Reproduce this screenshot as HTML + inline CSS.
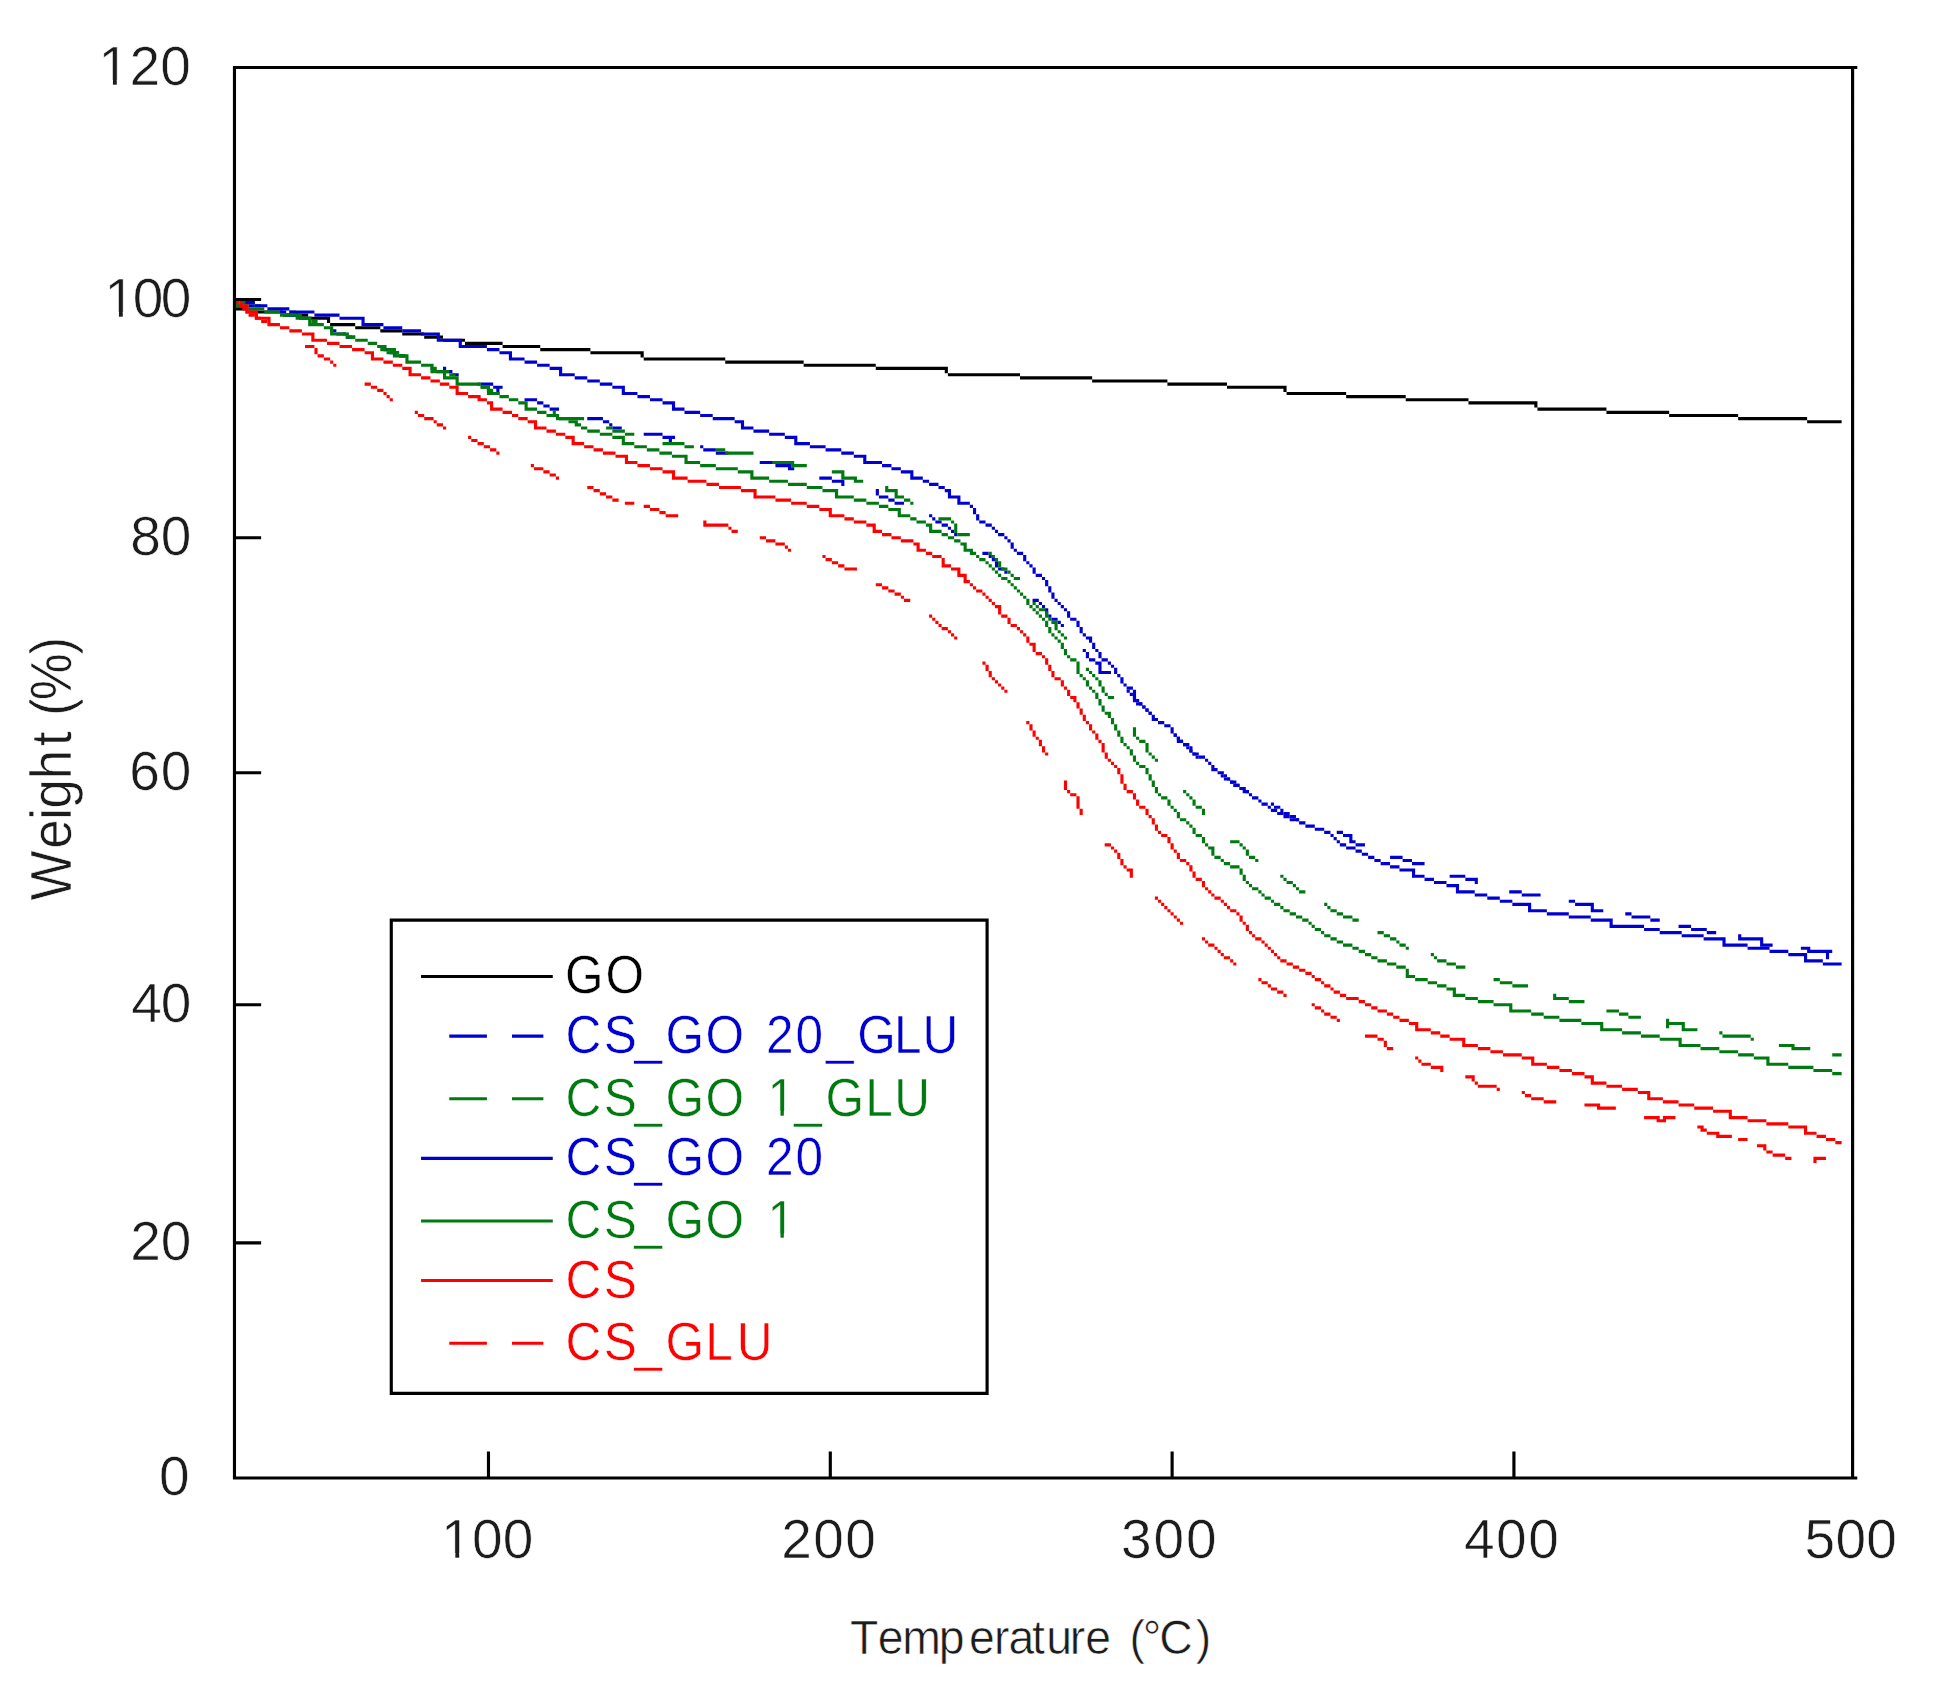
<!DOCTYPE html>
<html><head><meta charset="utf-8"><title>TGA</title>
<style>
html,body{margin:0;padding:0;background:#fff;}
body{width:1945px;height:1702px;overflow:hidden;}
svg{display:block;}
text{font-family:"Liberation Sans",sans-serif;font-kerning:none;}
</style></head><body>
<svg width="1945" height="1702" viewBox="0 0 1945 1702">
<rect width="1945" height="1702" fill="#fff"/>
<g>
<path d="M236.04 307.32H248.59V310.46H236.04zM248.59 310.46H283.08V313.59H248.59zM283.08 313.59H308.17V316.72H283.08zM308.17 316.72H330.12V319.86H308.17zM326.98 319.86H330.12V322.99H326.98zM330.12 322.99H355.21V326.13H330.12zM355.21 326.13H380.29V329.26H355.21zM380.29 329.26H402.25V332.40H380.29zM402.25 332.40H424.20V335.53H402.25zM424.20 335.53H443.01V338.67H424.20zM443.01 338.67H464.96V341.80H443.01zM464.96 341.80H502.59V344.93H464.96zM502.59 344.93H540.22V348.07H502.59zM540.22 348.07H590.40V351.20H540.22zM590.40 351.20H643.71V354.34H590.40zM640.57 354.34H643.71V357.47H640.57zM643.71 357.47H725.24V360.61H643.71zM725.24 360.61H803.64V363.74H725.24zM803.64 363.74H875.77V366.87H803.64zM875.77 366.87H947.89V370.01H875.77zM944.76 370.01H947.89V373.14H944.76zM947.89 373.14H1020.02V376.28H947.89zM1020.02 376.28H1092.14V379.41H1020.02zM1092.14 379.41H1167.40V382.55H1092.14zM1167.40 382.55H1226.99V385.68H1167.40zM1226.99 385.68H1286.57V388.82H1226.99zM1283.43 388.82H1286.57V391.95H1283.43zM1286.57 391.95H1346.15V395.08H1286.57zM1346.15 395.08H1405.73V398.22H1346.15zM1405.73 398.22H1468.45V401.35H1405.73zM1468.45 401.35H1537.44V404.49H1468.45zM1534.31 404.49H1537.44V407.62H1534.31zM1537.44 407.62H1606.43V410.76H1537.44zM1606.43 410.76H1669.15V413.89H1606.43zM1669.15 413.89H1738.14V417.03H1669.15zM1738.14 417.03H1807.13V420.16H1738.14zM1807.13 420.16H1841.62V423.29H1807.13z" fill="#000"/>
<path d="M236.04 297.92H242.31V301.05H236.04zM242.31 301.05H248.59V304.19H242.31zM248.59 304.19H254.86V307.32H248.59zM279.95 310.46H286.22V313.59H279.95zM286.22 313.59H298.76V316.72H286.22zM298.76 316.72H308.17V319.86H298.76zM330.12 329.26H336.39V332.40H330.12zM336.39 332.40H345.80V335.53H336.39zM345.80 335.53H352.07V338.67H345.80zM383.43 348.07H389.70V351.20H383.43zM389.70 351.20H399.11V354.34H389.70zM399.11 354.34H405.38V357.47H399.11zM443.01 366.87H446.15V370.01H443.01zM446.15 370.01H452.42V373.14H446.15zM452.42 373.14H458.69V376.28H452.42zM480.64 382.55H493.19V385.68H480.64zM493.19 385.68H502.59V388.82H493.19zM496.32 388.82H499.46V391.95H496.32zM496.32 391.95H499.46V395.08H496.32zM524.55 398.22H537.09V401.35H524.55zM537.09 401.35H543.36V404.49H537.09zM543.36 404.49H549.63V407.62H543.36zM549.63 407.62H559.04V410.76H549.63zM587.26 417.03H602.94V420.16H587.26zM602.94 420.16H609.21V423.29H602.94zM609.21 423.29H612.35V426.43H609.21zM612.35 426.43H621.76V429.56H612.35zM643.71 432.70H662.52V435.83H643.71zM662.52 435.83H675.07V438.97H662.52zM668.80 438.97H671.93V442.10H668.80zM700.16 445.23H703.29V448.37H700.16zM703.29 448.37H715.84V451.50H703.29zM715.84 451.50H728.38V454.64H715.84zM759.74 460.91H775.42V464.04H759.74zM775.42 464.04H791.10V467.18H775.42zM787.96 467.18H794.23V470.31H787.96zM819.32 476.58H831.86V479.71H819.32zM831.86 479.71H844.41V482.85H831.86zM841.27 482.85H844.41V485.98H841.27zM875.77 489.12H878.90V492.25H875.77zM875.77 492.25H878.90V495.39H875.77zM878.90 495.39H888.31V498.52H878.90zM888.31 498.52H894.58V501.65H888.31zM894.58 501.65H903.99V504.79H894.58zM929.08 514.19H932.21V517.33H929.08zM932.21 517.33H935.35V520.46H932.21zM935.35 520.46H941.62V523.59H935.35zM941.62 523.59H947.89V526.73H941.62zM947.89 526.73H951.03V529.86H947.89zM951.03 529.86H954.16V533.00H951.03zM954.16 533.00H957.30V536.13H954.16zM982.39 551.80H988.66V554.94H982.39zM988.66 554.94H991.79V558.07H988.66zM991.79 558.07H994.93V561.21H991.79zM994.93 561.21H998.07V564.34H994.93zM994.93 564.34H998.07V567.48H994.93zM998.07 567.48H1004.34V570.61H998.07zM1004.34 570.61H1007.47V573.75H1004.34zM1032.56 598.82H1038.83V601.95H1032.56zM1038.83 601.95H1041.97V605.09H1038.83zM1041.97 605.09H1045.10V608.22H1041.97zM1045.10 608.22H1048.24V611.36H1045.10zM1045.10 611.36H1048.24V614.49H1045.10zM1048.24 614.49H1051.38V617.63H1048.24zM1051.38 617.63H1057.65V620.76H1051.38zM1057.65 620.76H1060.78V623.90H1057.65zM1060.78 623.90H1063.92V627.03H1060.78zM1082.74 648.97H1085.87V652.11H1082.74zM1085.87 652.11H1089.01V655.24H1085.87zM1085.87 655.24H1089.01V658.37H1085.87zM1089.01 658.37H1095.28V661.51H1089.01zM1095.28 661.51H1101.55V664.64H1095.28zM1098.41 664.64H1101.55V667.78H1098.41zM1098.41 667.78H1101.55V670.91H1098.41zM1098.41 670.91H1110.96V674.05H1098.41zM1126.64 689.72H1129.77V692.85H1126.64zM1129.77 692.85H1132.91V695.99H1129.77zM1132.91 695.99H1136.05V699.12H1132.91zM1136.05 699.12H1139.18V702.26H1136.05zM1139.18 702.26H1142.32V705.39H1139.18zM1142.32 705.39H1145.45V708.52H1142.32zM1145.45 708.52H1148.59V711.66H1145.45zM1148.59 711.66H1151.73V714.79H1148.59zM1173.68 733.60H1176.81V736.73H1173.68zM1176.81 736.73H1179.95V739.87H1176.81zM1179.95 739.87H1183.08V743.00H1179.95zM1183.08 743.00H1186.22V746.14H1183.08zM1186.22 746.14H1189.36V749.27H1186.22zM1189.36 749.27H1192.49V752.41H1189.36zM1192.49 752.41H1195.63V755.54H1192.49zM1195.63 755.54H1198.76V758.67H1195.63zM1220.72 774.35H1223.85V777.48H1220.72zM1223.85 777.48H1230.12V780.62H1223.85zM1230.12 780.62H1233.26V783.75H1230.12zM1233.26 783.75H1239.53V786.88H1233.26zM1239.53 786.88H1245.80V790.02H1239.53zM1245.80 790.02H1248.94V793.15H1245.80zM1270.89 802.56H1274.03V805.69H1270.89zM1274.03 805.69H1280.30V808.83H1274.03zM1280.30 808.83H1283.43V811.96H1280.30zM1283.43 811.96H1289.70V815.09H1283.43zM1289.70 815.09H1295.98V818.23H1289.70zM1295.98 818.23H1299.11V821.36H1295.98zM1336.74 830.77H1343.02V833.90H1336.74zM1343.02 833.90H1352.42V837.03H1343.02zM1349.29 837.03H1352.42V840.17H1349.29zM1349.29 840.17H1355.56V843.30H1349.29zM1355.56 843.30H1364.97V846.44H1355.56zM1390.05 855.84H1402.60V858.98H1390.05zM1402.60 858.98H1412.00V862.11H1402.60zM1412.00 862.11H1424.55V865.24H1412.00zM1449.64 874.65H1465.32V877.78H1449.64zM1465.32 877.78H1477.86V880.92H1465.32zM1474.72 880.92H1477.86V884.05H1474.72zM1509.22 890.32H1521.76V893.45H1509.22zM1521.76 893.45H1540.58V896.59H1521.76zM1568.80 899.72H1575.07V902.86H1568.80zM1575.07 902.86H1593.89V905.99H1575.07zM1590.75 905.99H1593.89V909.13H1590.75zM1590.75 909.13H1603.29V912.26H1590.75zM1625.25 912.26H1631.52V915.39H1625.25zM1631.52 915.39H1650.33V918.53H1631.52zM1650.33 918.53H1659.74V921.66H1650.33zM1678.56 924.80H1691.10V927.93H1678.56zM1691.10 927.93H1706.78V931.07H1691.10zM1706.78 931.07H1716.19V934.20H1706.78zM1738.14 934.20H1741.27V937.34H1738.14zM1738.14 937.34H1763.23V940.47H1738.14zM1760.09 940.47H1763.23V943.60H1760.09zM1760.09 943.60H1772.63V946.74H1760.09zM1800.86 946.74H1810.26V949.87H1800.86zM1807.13 949.87H1832.22V953.01H1807.13zM1825.94 953.01H1829.08V956.14H1825.94zM1825.94 956.14H1829.08V959.28H1825.94z" fill="#0000d2"/>
<path d="M236.04 297.92H242.31V301.05H236.04zM242.31 301.05H254.86V304.19H242.31zM254.86 304.19H261.13V307.32H254.86zM289.35 310.46H295.62V313.59H289.35zM295.62 313.59H301.90V316.72H295.62zM301.90 316.72H311.30V319.86H301.90zM311.30 319.86H317.58V322.99H311.30zM342.66 332.40H348.93V335.53H342.66zM348.93 335.53H355.21V338.67H348.93zM380.29 348.07H386.57V351.20H380.29zM386.57 351.20H399.11V354.34H386.57zM399.11 354.34H405.38V357.47H399.11zM430.47 366.87H436.74V370.01H430.47zM436.74 370.01H449.28V373.14H436.74zM449.28 373.14H455.56V376.28H449.28zM477.51 382.55H480.64V385.68H477.51zM480.64 385.68H486.91V388.82H480.64zM486.91 388.82H493.19V391.95H486.91zM493.19 391.95H499.46V395.08H493.19zM552.77 410.76H555.90V413.89H552.77zM555.90 413.89H559.04V417.03H555.90zM555.90 417.03H584.13V420.16H555.90zM606.08 426.43H612.35V429.56H606.08zM612.35 429.56H624.89V432.70H612.35zM624.89 432.70H634.30V435.83H624.89zM662.52 442.10H684.48V445.23H662.52zM684.48 445.23H693.88V448.37H684.48zM715.84 448.37H725.24V451.50H715.84zM725.24 451.50H753.47V454.64H725.24zM772.28 460.91H794.23V464.04H772.28zM791.10 464.04H806.78V467.18H791.10zM831.86 470.31H844.41V473.44H831.86zM841.27 473.44H844.41V476.58H841.27zM841.27 476.58H856.95V479.71H841.27zM853.81 479.71H863.22V482.85H853.81zM885.17 485.98H888.31V489.12H885.17zM885.17 489.12H897.72V492.25H885.17zM894.58 492.25H897.72V495.39H894.58zM894.58 495.39H903.99V498.52H894.58zM903.99 498.52H910.26V501.65H903.99zM910.26 501.65H913.40V504.79H910.26zM938.48 517.33H951.03V520.46H938.48zM951.03 520.46H954.16V523.59H951.03zM954.16 523.59H957.30V526.73H954.16zM954.16 526.73H957.30V529.86H954.16zM954.16 529.86H957.30V533.00H954.16zM957.30 533.00H969.84V536.13H957.30zM988.66 551.80H991.79V554.94H988.66zM991.79 554.94H994.93V558.07H991.79zM994.93 558.07H998.07V561.21H994.93zM998.07 561.21H1001.20V564.34H998.07zM998.07 564.34H1001.20V567.48H998.07zM1001.20 567.48H1007.47V570.61H1001.20zM1007.47 570.61H1010.61V573.75H1007.47zM1010.61 573.75H1013.75V576.88H1010.61zM1013.75 576.88H1020.02V580.01H1013.75zM1032.56 601.95H1035.70V605.09H1032.56zM1035.70 605.09H1038.83V608.22H1035.70zM1038.83 608.22H1045.10V611.36H1038.83zM1045.10 611.36H1048.24V614.49H1045.10zM1045.10 614.49H1048.24V617.63H1045.10zM1048.24 617.63H1051.38V620.76H1048.24zM1051.38 620.76H1057.65V623.90H1051.38zM1054.51 623.90H1057.65V627.03H1054.51zM1054.51 627.03H1057.65V630.16H1054.51zM1057.65 630.16H1060.78V633.30H1057.65zM1060.78 633.30H1063.92V636.43H1060.78zM1063.92 636.43H1067.06V639.57H1063.92zM1085.87 667.78H1089.01V670.91H1085.87zM1089.01 670.91H1092.14V674.05H1089.01zM1092.14 674.05H1095.28V677.18H1092.14zM1095.28 677.18H1098.41V680.31H1095.28zM1098.41 680.31H1101.55V683.45H1098.41zM1098.41 683.45H1101.55V686.58H1098.41zM1101.55 686.58H1104.69V689.72H1101.55zM1101.55 689.72H1104.69V692.85H1101.55zM1104.69 692.85H1107.82V695.99H1104.69zM1107.82 695.99H1114.09V699.12H1107.82zM1132.91 727.33H1136.05V730.47H1132.91zM1132.91 730.47H1136.05V733.60H1132.91zM1132.91 733.60H1136.05V736.73H1132.91zM1136.05 736.73H1139.18V739.87H1136.05zM1139.18 739.87H1145.45V743.00H1139.18zM1145.45 743.00H1148.59V746.14H1145.45zM1145.45 746.14H1148.59V749.27H1145.45zM1145.45 749.27H1148.59V752.41H1145.45zM1148.59 752.41H1151.73V755.54H1148.59zM1151.73 755.54H1154.86V758.67H1151.73zM1154.86 758.67H1158.00V761.81H1154.86zM1183.08 790.02H1186.22V793.15H1183.08zM1186.22 793.15H1189.36V796.29H1186.22zM1189.36 796.29H1192.49V799.42H1189.36zM1192.49 799.42H1195.63V802.56H1192.49zM1192.49 802.56H1195.63V805.69H1192.49zM1195.63 805.69H1201.90V808.83H1195.63zM1201.90 808.83H1205.04V811.96H1201.90zM1201.90 811.96H1205.04V815.09H1201.90zM1230.12 840.17H1239.53V843.30H1230.12zM1239.53 843.30H1242.67V846.44H1239.53zM1242.67 846.44H1245.80V849.57H1242.67zM1245.80 849.57H1248.94V852.71H1245.80zM1245.80 852.71H1248.94V855.84H1245.80zM1248.94 855.84H1255.21V858.98H1248.94zM1255.21 858.98H1258.35V862.11H1255.21zM1280.30 874.65H1283.43V877.78H1280.30zM1283.43 877.78H1286.57V880.92H1283.43zM1286.57 880.92H1292.84V884.05H1286.57zM1292.84 884.05H1295.98V887.19H1292.84zM1295.98 887.19H1299.11V890.32H1295.98zM1299.11 890.32H1305.38V893.45H1299.11zM1324.20 902.86H1327.34V905.99H1324.20zM1327.34 905.99H1330.47V909.13H1327.34zM1330.47 909.13H1336.74V912.26H1330.47zM1336.74 912.26H1343.02V915.39H1336.74zM1343.02 915.39H1352.42V918.53H1343.02zM1352.42 918.53H1358.69V921.66H1352.42zM1377.51 931.07H1383.78V934.20H1377.51zM1383.78 934.20H1390.05V937.34H1383.78zM1390.05 937.34H1396.33V940.47H1390.05zM1396.33 940.47H1399.46V943.60H1396.33zM1399.46 943.60H1405.73V946.74H1399.46zM1405.73 946.74H1408.87V949.87H1405.73zM1430.82 953.01H1433.96V956.14H1430.82zM1433.96 956.14H1437.09V959.28H1433.96zM1437.09 959.28H1446.50V962.41H1437.09zM1446.50 962.41H1455.91V965.55H1446.50zM1455.91 965.55H1465.32V968.68H1455.91zM1493.54 978.08H1499.81V981.22H1493.54zM1499.81 981.22H1512.35V984.35H1499.81zM1512.35 984.35H1528.03V987.49H1512.35zM1553.12 993.75H1556.26V996.89H1553.12zM1553.12 996.89H1568.80V1000.02H1553.12zM1568.80 1000.02H1584.48V1003.16H1568.80zM1606.43 1009.43H1618.97V1012.56H1606.43zM1618.97 1012.56H1628.38V1015.70H1618.97zM1628.38 1015.70H1640.93V1018.83H1628.38zM1666.01 1018.83H1669.15V1021.96H1666.01zM1666.01 1021.96H1684.83V1025.10H1666.01zM1666.01 1025.10H1669.15V1028.23H1666.01zM1681.69 1025.10H1684.83V1028.23H1681.69zM1681.69 1028.23H1697.37V1031.37H1681.69zM1719.32 1031.37H1722.46V1034.50H1719.32zM1722.46 1034.50H1750.68V1037.64H1722.46zM1750.68 1037.64H1753.82V1040.77H1750.68zM1778.91 1043.91H1794.58V1047.04H1778.91zM1791.45 1047.04H1810.26V1050.17H1791.45zM1832.22 1053.31H1841.62V1056.44H1832.22z" fill="#007a10"/>
<path d="M236.04 297.92H245.45V301.05H236.04zM245.45 301.05H254.86V304.19H245.45zM254.86 304.19H267.40V307.32H254.86zM267.40 307.32H289.35V310.46H267.40zM289.35 310.46H314.44V313.59H289.35zM314.44 313.59H339.53V316.72H314.44zM339.53 316.72H364.61V319.86H339.53zM361.48 319.86H364.61V322.99H361.48zM361.48 322.99H383.43V326.13H361.48zM383.43 326.13H402.25V329.26H383.43zM402.25 329.26H421.06V332.40H402.25zM421.06 332.40H439.88V335.53H421.06zM436.74 335.53H439.88V338.67H436.74zM436.74 338.67H461.83V341.80H436.74zM458.69 341.80H461.83V344.93H458.69zM458.69 344.93H486.91V348.07H458.69zM486.91 348.07H499.46V351.20H486.91zM499.46 351.20H512.00V354.34H499.46zM508.87 354.34H512.00V357.47H508.87zM508.87 357.47H524.55V360.61H508.87zM524.55 360.61H537.09V363.74H524.55zM537.09 363.74H549.63V366.87H537.09zM549.63 366.87H562.18V370.01H549.63zM559.04 370.01H562.18V373.14H559.04zM559.04 373.14H574.72V376.28H559.04zM574.72 376.28H587.26V379.41H574.72zM587.26 379.41H599.81V382.55H587.26zM599.81 382.55H612.35V385.68H599.81zM612.35 385.68H624.89V388.82H612.35zM621.76 388.82H624.89V391.95H621.76zM621.76 391.95H637.44V395.08H621.76zM637.44 395.08H649.98V398.22H637.44zM649.98 398.22H662.52V401.35H649.98zM662.52 401.35H675.07V404.49H662.52zM671.93 404.49H675.07V407.62H671.93zM671.93 407.62H684.48V410.76H671.93zM684.48 410.76H700.16V413.89H684.48zM700.16 413.89H712.70V417.03H700.16zM712.70 417.03H734.65V420.16H712.70zM734.65 420.16H744.06V423.29H734.65zM740.92 423.29H744.06V426.43H740.92zM740.92 426.43H753.47V429.56H740.92zM753.47 429.56H769.15V432.70H753.47zM769.15 432.70H784.83V435.83H769.15zM784.83 435.83H797.37V438.97H784.83zM794.23 438.97H797.37V442.10H794.23zM794.23 442.10H809.91V445.23H794.23zM809.91 445.23H825.59V448.37H809.91zM825.59 448.37H841.27V451.50H825.59zM841.27 451.50H853.81V454.64H841.27zM853.81 454.64H866.36V457.77H853.81zM863.22 457.77H866.36V460.91H863.22zM863.22 460.91H882.04V464.04H863.22zM882.04 464.04H891.45V467.18H882.04zM891.45 467.18H900.85V470.31H891.45zM900.85 470.31H913.40V473.44H900.85zM910.26 473.44H913.40V476.58H910.26zM910.26 476.58H922.80V479.71H910.26zM922.80 479.71H929.08V482.85H922.80zM929.08 482.85H938.48V485.98H929.08zM938.48 485.98H944.76V489.12H938.48zM944.76 489.12H951.03V492.25H944.76zM947.89 492.25H951.03V495.39H947.89zM947.89 495.39H960.44V498.52H947.89zM957.30 498.52H960.44V501.65H957.30zM957.30 501.65H969.84V504.79H957.30zM969.84 504.79H972.98V507.92H969.84zM972.98 507.92H976.11V511.06H972.98zM972.98 511.06H976.11V514.19H972.98zM976.11 514.19H979.25V517.33H976.11zM976.11 517.33H979.25V520.46H976.11zM979.25 520.46H985.52V523.59H979.25zM985.52 523.59H991.79V526.73H985.52zM991.79 526.73H994.93V529.86H991.79zM994.93 529.86H998.07V533.00H994.93zM998.07 533.00H1004.34V536.13H998.07zM1004.34 536.13H1007.47V539.27H1004.34zM1007.47 539.27H1010.61V542.40H1007.47zM1010.61 542.40H1013.75V545.54H1010.61zM1010.61 545.54H1013.75V548.67H1010.61zM1013.75 548.67H1016.88V551.80H1013.75zM1016.88 551.80H1023.15V554.94H1016.88zM1023.15 554.94H1026.29V558.07H1023.15zM1023.15 558.07H1026.29V561.21H1023.15zM1026.29 561.21H1029.43V564.34H1026.29zM1029.43 564.34H1032.56V567.48H1029.43zM1032.56 567.48H1035.70V570.61H1032.56zM1032.56 570.61H1035.70V573.75H1032.56zM1035.70 573.75H1041.97V576.88H1035.70zM1041.97 576.88H1045.10V580.01H1041.97zM1045.10 580.01H1048.24V583.15H1045.10zM1045.10 583.15H1048.24V586.28H1045.10zM1048.24 586.28H1051.38V589.42H1048.24zM1048.24 589.42H1051.38V592.55H1048.24zM1051.38 592.55H1054.51V595.69H1051.38zM1051.38 595.69H1054.51V598.82H1051.38zM1054.51 598.82H1057.65V601.95H1054.51zM1057.65 601.95H1060.78V605.09H1057.65zM1060.78 605.09H1063.92V608.22H1060.78zM1063.92 608.22H1067.06V611.36H1063.92zM1067.06 611.36H1070.19V614.49H1067.06zM1067.06 614.49H1070.19V617.63H1067.06zM1070.19 617.63H1076.46V620.76H1070.19zM1076.46 620.76H1079.60V623.90H1076.46zM1076.46 623.90H1079.60V627.03H1076.46zM1079.60 627.03H1082.74V630.16H1079.60zM1079.60 630.16H1082.74V633.30H1079.60zM1082.74 633.30H1085.87V636.43H1082.74zM1085.87 636.43H1092.14V639.57H1085.87zM1089.01 639.57H1092.14V642.70H1089.01zM1092.14 642.70H1095.28V645.84H1092.14zM1092.14 645.84H1095.28V648.97H1092.14zM1095.28 648.97H1098.41V652.11H1095.28zM1098.41 652.11H1101.55V655.24H1098.41zM1098.41 655.24H1101.55V658.37H1098.41zM1101.55 658.37H1107.82V661.51H1101.55zM1107.82 661.51H1110.96V664.64H1107.82zM1110.96 664.64H1114.09V667.78H1110.96zM1114.09 667.78H1117.23V670.91H1114.09zM1114.09 670.91H1117.23V674.05H1114.09zM1117.23 674.05H1120.37V677.18H1117.23zM1120.37 677.18H1123.50V680.31H1120.37zM1120.37 680.31H1123.50V683.45H1120.37zM1123.50 683.45H1126.64V686.58H1123.50zM1126.64 686.58H1132.91V689.72H1126.64zM1132.91 689.72H1136.05V692.85H1132.91zM1132.91 692.85H1136.05V695.99H1132.91zM1132.91 695.99H1136.05V699.12H1132.91zM1132.91 699.12H1136.05V702.26H1132.91zM1136.05 702.26H1142.32V705.39H1136.05zM1142.32 705.39H1145.45V708.52H1142.32zM1145.45 708.52H1148.59V711.66H1145.45zM1148.59 711.66H1151.73V714.79H1148.59zM1151.73 714.79H1154.86V717.93H1151.73zM1151.73 717.93H1158.00V721.06H1151.73zM1158.00 721.06H1164.27V724.20H1158.00zM1164.27 724.20H1170.54V727.33H1164.27zM1170.54 727.33H1173.68V730.47H1170.54zM1170.54 730.47H1173.68V733.60H1170.54zM1173.68 733.60H1176.81V736.73H1173.68zM1176.81 736.73H1179.95V739.87H1176.81zM1176.81 739.87H1183.08V743.00H1176.81zM1183.08 743.00H1189.36V746.14H1183.08zM1189.36 746.14H1192.49V749.27H1189.36zM1189.36 749.27H1192.49V752.41H1189.36zM1192.49 752.41H1198.76V755.54H1192.49zM1198.76 755.54H1205.04V758.67H1198.76zM1205.04 758.67H1208.17V761.81H1205.04zM1208.17 761.81H1211.31V764.94H1208.17zM1211.31 764.94H1214.44V768.08H1211.31zM1211.31 768.08H1217.58V771.21H1211.31zM1217.58 771.21H1223.85V774.35H1217.58zM1223.85 774.35H1226.99V777.48H1223.85zM1226.99 777.48H1230.12V780.62H1226.99zM1230.12 780.62H1236.39V783.75H1230.12zM1236.39 783.75H1239.53V786.88H1236.39zM1239.53 786.88H1242.67V790.02H1239.53zM1242.67 790.02H1248.94V793.15H1242.67zM1248.94 793.15H1252.07V796.29H1248.94zM1252.07 796.29H1258.35V799.42H1252.07zM1258.35 799.42H1261.48V802.56H1258.35zM1261.48 802.56H1267.75V805.69H1261.48zM1267.75 805.69H1270.89V808.83H1267.75zM1270.89 808.83H1277.16V811.96H1270.89zM1277.16 811.96H1283.43V815.09H1277.16zM1283.43 815.09H1289.70V818.23H1283.43zM1289.70 818.23H1299.11V821.36H1289.70zM1299.11 821.36H1305.38V824.50H1299.11zM1305.38 824.50H1314.79V827.63H1305.38zM1314.79 827.63H1324.20V830.77H1314.79zM1324.20 830.77H1330.47V833.90H1324.20zM1330.47 833.90H1333.61V837.03H1330.47zM1333.61 837.03H1336.74V840.17H1333.61zM1336.74 840.17H1339.88V843.30H1336.74zM1339.88 843.30H1346.15V846.44H1339.88zM1346.15 846.44H1355.56V849.57H1346.15zM1355.56 849.57H1361.83V852.71H1355.56zM1361.83 852.71H1368.10V855.84H1361.83zM1368.10 855.84H1374.37V858.98H1368.10zM1374.37 858.98H1380.65V862.11H1374.37zM1380.65 862.11H1390.05V865.24H1380.65zM1390.05 865.24H1399.46V868.38H1390.05zM1399.46 868.38H1415.14V871.51H1399.46zM1412.00 871.51H1415.14V874.65H1412.00zM1412.00 874.65H1424.55V877.78H1412.00zM1424.55 877.78H1433.96V880.92H1424.55zM1433.96 880.92H1446.50V884.05H1433.96zM1446.50 884.05H1459.04V887.19H1446.50zM1455.91 887.19H1459.04V890.32H1455.91zM1455.91 890.32H1474.72V893.45H1455.91zM1474.72 893.45H1487.27V896.59H1474.72zM1487.27 896.59H1499.81V899.72H1487.27zM1499.81 899.72H1512.35V902.86H1499.81zM1512.35 902.86H1531.17V905.99H1512.35zM1528.03 905.99H1531.17V909.13H1528.03zM1528.03 909.13H1546.85V912.26H1528.03zM1546.85 912.26H1568.80V915.39H1546.85zM1568.80 915.39H1590.75V918.53H1568.80zM1590.75 918.53H1612.70V921.66H1590.75zM1609.57 921.66H1612.70V924.80H1609.57zM1609.57 924.80H1644.06V927.93H1609.57zM1644.06 927.93H1659.74V931.07H1644.06zM1659.74 931.07H1681.69V934.20H1659.74zM1681.69 934.20H1703.64V937.34H1681.69zM1703.64 937.34H1725.59V940.47H1703.64zM1722.46 940.47H1725.59V943.60H1722.46zM1722.46 943.60H1747.55V946.74H1722.46zM1747.55 946.74H1769.50V949.87H1747.55zM1769.50 949.87H1788.31V953.01H1769.50zM1788.31 953.01H1807.13V956.14H1788.31zM1803.99 956.14H1807.13V959.28H1803.99zM1803.99 959.28H1822.81V962.41H1803.99zM1822.81 962.41H1841.62V965.55H1822.81z" fill="#0000d2"/>
<path d="M236.04 297.92H239.18V301.05H236.04zM236.04 301.05H239.18V304.19H236.04zM236.04 304.19H248.59V307.32H236.04zM248.59 307.32H264.27V310.46H248.59zM264.27 310.46H279.95V313.59H264.27zM279.95 313.59H295.62V316.72H279.95zM295.62 316.72H311.30V319.86H295.62zM308.17 319.86H311.30V322.99H308.17zM308.17 322.99H323.85V326.13H308.17zM323.85 326.13H333.26V329.26H323.85zM330.12 329.26H333.26V332.40H330.12zM330.12 332.40H345.80V335.53H330.12zM345.80 335.53H355.21V338.67H345.80zM355.21 338.67H367.75V341.80H355.21zM367.75 341.80H377.16V344.93H367.75zM377.16 344.93H386.57V348.07H377.16zM386.57 348.07H395.97V351.20H386.57zM392.84 351.20H395.97V354.34H392.84zM392.84 354.34H408.52V357.47H392.84zM405.38 357.47H408.52V360.61H405.38zM405.38 360.61H421.06V363.74H405.38zM421.06 363.74H433.60V366.87H421.06zM430.47 366.87H433.60V370.01H430.47zM430.47 370.01H446.15V373.14H430.47zM443.01 373.14H446.15V376.28H443.01zM443.01 376.28H458.69V379.41H443.01zM455.56 379.41H458.69V382.55H455.56zM455.56 382.55H480.64V385.68H455.56zM480.64 385.68H490.05V388.82H480.64zM486.91 388.82H490.05V391.95H486.91zM486.91 391.95H499.46V395.08H486.91zM499.46 395.08H508.87V398.22H499.46zM508.87 398.22H518.27V401.35H508.87zM518.27 401.35H527.68V404.49H518.27zM524.55 404.49H527.68V407.62H524.55zM524.55 407.62H537.09V410.76H524.55zM537.09 410.76H546.50V413.89H537.09zM546.50 413.89H559.04V417.03H546.50zM559.04 417.03H568.45V420.16H559.04zM568.45 420.16H577.86V423.29H568.45zM574.72 423.29H580.99V426.43H574.72zM580.99 426.43H587.26V429.56H580.99zM587.26 429.56H599.81V432.70H587.26zM599.81 432.70H612.35V435.83H599.81zM612.35 435.83H624.89V438.97H612.35zM621.76 438.97H624.89V442.10H621.76zM621.76 442.10H634.30V445.23H621.76zM634.30 445.23H646.85V448.37H634.30zM646.85 448.37H659.39V451.50H646.85zM659.39 451.50H671.93V454.64H659.39zM671.93 454.64H687.61V457.77H671.93zM684.48 457.77H687.61V460.91H684.48zM684.48 460.91H700.16V464.04H684.48zM700.16 464.04H715.84V467.18H700.16zM715.84 467.18H737.79V470.31H715.84zM737.79 470.31H753.47V473.44H737.79zM750.33 473.44H753.47V476.58H750.33zM750.33 476.58H769.15V479.71H750.33zM769.15 479.71H787.96V482.85H769.15zM787.96 482.85H806.78V485.98H787.96zM806.78 485.98H822.46V489.12H806.78zM822.46 489.12H838.14V492.25H822.46zM835.00 492.25H838.14V495.39H835.00zM835.00 495.39H853.81V498.52H835.00zM853.81 498.52H866.36V501.65H853.81zM866.36 501.65H878.90V504.79H866.36zM878.90 504.79H888.31V507.92H878.90zM888.31 507.92H900.85V511.06H888.31zM897.72 511.06H900.85V514.19H897.72zM897.72 514.19H910.26V517.33H897.72zM910.26 517.33H916.53V520.46H910.26zM916.53 520.46H925.94V523.59H916.53zM925.94 523.59H932.21V526.73H925.94zM929.08 526.73H932.21V529.86H929.08zM929.08 529.86H941.62V533.00H929.08zM941.62 533.00H947.89V536.13H941.62zM947.89 536.13H954.16V539.27H947.89zM954.16 539.27H960.44V542.40H954.16zM960.44 542.40H966.71V545.54H960.44zM963.57 545.54H966.71V548.67H963.57zM963.57 548.67H972.98V551.80H963.57zM969.84 551.80H976.11V554.94H969.84zM976.11 554.94H979.25V558.07H976.11zM979.25 558.07H985.52V561.21H979.25zM985.52 561.21H988.66V564.34H985.52zM988.66 564.34H991.79V567.48H988.66zM991.79 567.48H994.93V570.61H991.79zM994.93 570.61H998.07V573.75H994.93zM998.07 573.75H1001.20V576.88H998.07zM1001.20 576.88H1007.47V580.01H1001.20zM1007.47 580.01H1010.61V583.15H1007.47zM1010.61 583.15H1013.75V586.28H1010.61zM1013.75 586.28H1016.88V589.42H1013.75zM1016.88 589.42H1020.02V592.55H1016.88zM1020.02 592.55H1023.15V595.69H1020.02zM1023.15 595.69H1026.29V598.82H1023.15zM1026.29 598.82H1029.43V601.95H1026.29zM1026.29 601.95H1029.43V605.09H1026.29zM1029.43 605.09H1032.56V608.22H1029.43zM1032.56 608.22H1035.70V611.36H1032.56zM1035.70 611.36H1038.83V614.49H1035.70zM1038.83 614.49H1041.97V617.63H1038.83zM1041.97 617.63H1045.10V620.76H1041.97zM1045.10 620.76H1048.24V623.90H1045.10zM1045.10 623.90H1048.24V627.03H1045.10zM1048.24 627.03H1051.38V630.16H1048.24zM1048.24 630.16H1051.38V633.30H1048.24zM1051.38 633.30H1054.51V636.43H1051.38zM1054.51 636.43H1057.65V639.57H1054.51zM1057.65 639.57H1060.78V642.70H1057.65zM1060.78 642.70H1063.92V645.84H1060.78zM1060.78 645.84H1063.92V648.97H1060.78zM1063.92 648.97H1067.06V652.11H1063.92zM1063.92 652.11H1067.06V655.24H1063.92zM1067.06 655.24H1070.19V658.37H1067.06zM1070.19 658.37H1076.46V661.51H1070.19zM1076.46 661.51H1079.60V664.64H1076.46zM1076.46 664.64H1079.60V667.78H1076.46zM1076.46 667.78H1079.60V670.91H1076.46zM1076.46 670.91H1079.60V674.05H1076.46zM1079.60 674.05H1082.74V677.18H1079.60zM1082.74 677.18H1085.87V680.31H1082.74zM1085.87 680.31H1089.01V683.45H1085.87zM1085.87 683.45H1089.01V686.58H1085.87zM1089.01 686.58H1092.14V689.72H1089.01zM1092.14 689.72H1095.28V692.85H1092.14zM1095.28 692.85H1098.41V695.99H1095.28zM1095.28 695.99H1098.41V699.12H1095.28zM1098.41 699.12H1101.55V702.26H1098.41zM1098.41 702.26H1101.55V705.39H1098.41zM1101.55 705.39H1104.69V708.52H1101.55zM1101.55 708.52H1104.69V711.66H1101.55zM1104.69 711.66H1110.96V714.79H1104.69zM1107.82 714.79H1110.96V717.93H1107.82zM1110.96 717.93H1114.09V721.06H1110.96zM1110.96 721.06H1114.09V724.20H1110.96zM1114.09 724.20H1117.23V727.33H1114.09zM1114.09 727.33H1117.23V730.47H1114.09zM1117.23 730.47H1120.37V733.60H1117.23zM1117.23 733.60H1120.37V736.73H1117.23zM1120.37 736.73H1123.50V739.87H1120.37zM1120.37 739.87H1123.50V743.00H1120.37zM1123.50 743.00H1126.64V746.14H1123.50zM1126.64 746.14H1129.77V749.27H1126.64zM1129.77 749.27H1132.91V752.41H1129.77zM1129.77 752.41H1132.91V755.54H1129.77zM1132.91 755.54H1136.05V758.67H1132.91zM1132.91 758.67H1136.05V761.81H1132.91zM1136.05 761.81H1139.18V764.94H1136.05zM1139.18 764.94H1145.45V768.08H1139.18zM1145.45 768.08H1148.59V771.21H1145.45zM1145.45 771.21H1148.59V774.35H1145.45zM1148.59 774.35H1151.73V777.48H1148.59zM1148.59 777.48H1151.73V780.62H1148.59zM1151.73 780.62H1154.86V783.75H1151.73zM1151.73 783.75H1154.86V786.88H1151.73zM1154.86 786.88H1158.00V790.02H1154.86zM1154.86 790.02H1158.00V793.15H1154.86zM1158.00 793.15H1161.13V796.29H1158.00zM1161.13 796.29H1167.40V799.42H1161.13zM1167.40 799.42H1170.54V802.56H1167.40zM1167.40 802.56H1170.54V805.69H1167.40zM1170.54 805.69H1173.68V808.83H1170.54zM1173.68 808.83H1176.81V811.96H1173.68zM1176.81 811.96H1179.95V815.09H1176.81zM1176.81 815.09H1179.95V818.23H1176.81zM1179.95 818.23H1186.22V821.36H1179.95zM1186.22 821.36H1189.36V824.50H1186.22zM1189.36 824.50H1192.49V827.63H1189.36zM1192.49 827.63H1195.63V830.77H1192.49zM1192.49 830.77H1195.63V833.90H1192.49zM1195.63 833.90H1201.90V837.03H1195.63zM1201.90 837.03H1205.04V840.17H1201.90zM1201.90 840.17H1205.04V843.30H1201.90zM1205.04 843.30H1208.17V846.44H1205.04zM1208.17 846.44H1214.44V849.57H1208.17zM1211.31 849.57H1214.44V852.71H1211.31zM1211.31 852.71H1214.44V855.84H1211.31zM1214.44 855.84H1220.72V858.98H1214.44zM1220.72 858.98H1223.85V862.11H1220.72zM1223.85 862.11H1230.12V865.24H1223.85zM1230.12 865.24H1239.53V868.38H1230.12zM1239.53 868.38H1242.67V871.51H1239.53zM1239.53 871.51H1242.67V874.65H1239.53zM1242.67 874.65H1245.80V877.78H1242.67zM1242.67 877.78H1245.80V880.92H1242.67zM1245.80 880.92H1248.94V884.05H1245.80zM1248.94 884.05H1252.07V887.19H1248.94zM1252.07 887.19H1258.35V890.32H1252.07zM1258.35 890.32H1261.48V893.45H1258.35zM1261.48 893.45H1264.62V896.59H1261.48zM1264.62 896.59H1270.89V899.72H1264.62zM1270.89 899.72H1274.03V902.86H1270.89zM1274.03 902.86H1280.30V905.99H1274.03zM1280.30 905.99H1283.43V909.13H1280.30zM1283.43 909.13H1289.70V912.26H1283.43zM1289.70 912.26H1295.98V915.39H1289.70zM1295.98 915.39H1302.25V918.53H1295.98zM1302.25 918.53H1308.52V921.66H1302.25zM1308.52 921.66H1311.66V924.80H1308.52zM1311.66 924.80H1314.79V927.93H1311.66zM1314.79 927.93H1321.06V931.07H1314.79zM1321.06 931.07H1324.20V934.20H1321.06zM1324.20 934.20H1330.47V937.34H1324.20zM1330.47 937.34H1336.74V940.47H1330.47zM1336.74 940.47H1343.02V943.60H1336.74zM1343.02 943.60H1352.42V946.74H1343.02zM1352.42 946.74H1358.69V949.87H1352.42zM1358.69 949.87H1364.97V953.01H1358.69zM1364.97 953.01H1371.24V956.14H1364.97zM1371.24 956.14H1377.51V959.28H1371.24zM1377.51 959.28H1386.92V962.41H1377.51zM1386.92 962.41H1396.33V965.55H1386.92zM1396.33 965.55H1405.73V968.68H1396.33zM1405.73 968.68H1408.87V971.81H1405.73zM1405.73 971.81H1408.87V974.95H1405.73zM1405.73 974.95H1415.14V978.08H1405.73zM1415.14 978.08H1427.68V981.22H1415.14zM1427.68 981.22H1437.09V984.35H1427.68zM1437.09 984.35H1446.50V987.49H1437.09zM1446.50 987.49H1455.91V990.62H1446.50zM1452.77 990.62H1455.91V993.75H1452.77zM1452.77 993.75H1465.32V996.89H1452.77zM1465.32 996.89H1477.86V1000.02H1465.32zM1477.86 1000.02H1493.54V1003.16H1477.86zM1493.54 1003.16H1512.35V1006.29H1493.54zM1509.22 1006.29H1512.35V1009.43H1509.22zM1509.22 1009.43H1531.17V1012.56H1509.22zM1531.17 1012.56H1543.71V1015.70H1531.17zM1543.71 1015.70H1559.39V1018.83H1543.71zM1559.39 1018.83H1581.34V1021.96H1559.39zM1581.34 1021.96H1603.29V1025.10H1581.34zM1600.16 1025.10H1603.29V1028.23H1600.16zM1600.16 1028.23H1622.11V1031.37H1600.16zM1622.11 1031.37H1640.93V1034.50H1622.11zM1640.93 1034.50H1659.74V1037.64H1640.93zM1659.74 1037.64H1681.69V1040.77H1659.74zM1678.56 1040.77H1681.69V1043.91H1678.56zM1678.56 1043.91H1700.51V1047.04H1678.56zM1700.51 1047.04H1719.32V1050.17H1700.51zM1719.32 1050.17H1738.14V1053.31H1719.32zM1738.14 1053.31H1753.82V1056.44H1738.14zM1753.82 1056.44H1769.50V1059.58H1753.82zM1766.36 1059.58H1769.50V1062.71H1766.36zM1766.36 1062.71H1788.31V1065.85H1766.36zM1788.31 1065.85H1813.40V1068.98H1788.31zM1813.40 1068.98H1832.22V1072.11H1813.40zM1832.22 1072.11H1841.62V1075.25H1832.22z" fill="#007a10"/>
<path d="M236.04 301.05H239.18V304.19H236.04zM239.18 304.19H248.59V307.32H239.18zM245.45 307.32H248.59V310.46H245.45zM245.45 310.46H257.99V313.59H245.45zM254.86 313.59H257.99V316.72H254.86zM254.86 316.72H270.54V319.86H254.86zM267.40 319.86H270.54V322.99H267.40zM267.40 322.99H279.95V326.13H267.40zM279.95 326.13H289.35V329.26H279.95zM289.35 329.26H301.90V332.40H289.35zM301.90 332.40H314.44V335.53H301.90zM311.30 335.53H314.44V338.67H311.30zM311.30 338.67H326.98V341.80H311.30zM326.98 341.80H339.53V344.93H326.98zM339.53 344.93H352.07V348.07H339.53zM352.07 348.07H364.61V351.20H352.07zM364.61 351.20H374.02V354.34H364.61zM370.89 354.34H374.02V357.47H370.89zM370.89 357.47H383.43V360.61H370.89zM383.43 360.61H392.84V363.74H383.43zM392.84 363.74H402.25V366.87H392.84zM402.25 366.87H411.65V370.01H402.25zM408.52 370.01H411.65V373.14H408.52zM408.52 373.14H421.06V376.28H408.52zM421.06 376.28H430.47V379.41H421.06zM430.47 379.41H439.88V382.55H430.47zM439.88 382.55H449.28V385.68H439.88zM449.28 385.68H458.69V388.82H449.28zM455.56 388.82H458.69V391.95H455.56zM455.56 391.95H468.10V395.08H455.56zM468.10 395.08H480.64V398.22H468.10zM477.51 398.22H486.91V401.35H477.51zM486.91 401.35H493.19V404.49H486.91zM490.05 404.49H493.19V407.62H490.05zM490.05 407.62H502.59V410.76H490.05zM502.59 410.76H512.00V413.89H502.59zM512.00 413.89H518.27V417.03H512.00zM518.27 417.03H527.68V420.16H518.27zM527.68 420.16H537.09V423.29H527.68zM533.95 423.29H537.09V426.43H533.95zM533.95 426.43H546.50V429.56H533.95zM546.50 429.56H555.90V432.70H546.50zM555.90 432.70H565.31V435.83H555.90zM565.31 435.83H574.72V438.97H565.31zM571.58 438.97H574.72V442.10H571.58zM571.58 442.10H584.13V445.23H571.58zM584.13 445.23H593.54V448.37H584.13zM593.54 448.37H602.94V451.50H593.54zM602.94 451.50H615.49V454.64H602.94zM615.49 454.64H628.03V457.77H615.49zM624.89 457.77H628.03V460.91H624.89zM624.89 460.91H637.44V464.04H624.89zM637.44 464.04H649.98V467.18H637.44zM649.98 467.18H662.52V470.31H649.98zM662.52 470.31H675.07V473.44H662.52zM671.93 473.44H675.07V476.58H671.93zM671.93 476.58H687.61V479.71H671.93zM687.61 479.71H706.43V482.85H687.61zM706.43 482.85H718.97V485.98H706.43zM718.97 485.98H740.92V489.12H718.97zM740.92 489.12H756.60V492.25H740.92zM753.47 492.25H756.60V495.39H753.47zM753.47 495.39H775.42V498.52H753.47zM775.42 498.52H791.10V501.65H775.42zM791.10 501.65H806.78V504.79H791.10zM806.78 504.79H819.32V507.92H806.78zM819.32 507.92H831.86V511.06H819.32zM828.73 511.06H831.86V514.19H828.73zM828.73 514.19H844.41V517.33H828.73zM844.41 517.33H853.81V520.46H844.41zM853.81 520.46H866.36V523.59H853.81zM866.36 523.59H875.77V526.73H866.36zM872.63 526.73H875.77V529.86H872.63zM872.63 529.86H882.04V533.00H872.63zM882.04 533.00H891.45V536.13H882.04zM891.45 536.13H900.85V539.27H891.45zM900.85 539.27H913.40V542.40H900.85zM913.40 542.40H919.67V545.54H913.40zM916.53 545.54H919.67V548.67H916.53zM916.53 548.67H925.94V551.80H916.53zM925.94 551.80H932.21V554.94H925.94zM932.21 554.94H941.62V558.07H932.21zM941.62 558.07H944.76V561.21H941.62zM941.62 561.21H944.76V564.34H941.62zM941.62 564.34H951.03V567.48H941.62zM951.03 567.48H960.44V570.61H951.03zM957.30 570.61H960.44V573.75H957.30zM957.30 573.75H966.71V576.88H957.30zM963.57 576.88H966.71V580.01H963.57zM963.57 580.01H969.84V583.15H963.57zM969.84 583.15H972.98V586.28H969.84zM972.98 586.28H976.11V589.42H972.98zM976.11 589.42H982.39V592.55H976.11zM982.39 592.55H985.52V595.69H982.39zM985.52 595.69H988.66V598.82H985.52zM988.66 598.82H991.79V601.95H988.66zM991.79 601.95H994.93V605.09H991.79zM994.93 605.09H1001.20V608.22H994.93zM998.07 608.22H1001.20V611.36H998.07zM998.07 611.36H1001.20V614.49H998.07zM1001.20 614.49H1007.47V617.63H1001.20zM1007.47 617.63H1010.61V620.76H1007.47zM1007.47 620.76H1010.61V623.90H1007.47zM1010.61 623.90H1016.88V627.03H1010.61zM1016.88 627.03H1020.02V630.16H1016.88zM1020.02 630.16H1023.15V633.30H1020.02zM1023.15 633.30H1026.29V636.43H1023.15zM1026.29 636.43H1029.43V639.57H1026.29zM1026.29 639.57H1029.43V642.70H1026.29zM1029.43 642.70H1035.70V645.84H1029.43zM1032.56 645.84H1035.70V648.97H1032.56zM1032.56 648.97H1035.70V652.11H1032.56zM1035.70 652.11H1041.97V655.24H1035.70zM1041.97 655.24H1045.10V658.37H1041.97zM1045.10 658.37H1048.24V661.51H1045.10zM1045.10 661.51H1048.24V664.64H1045.10zM1048.24 664.64H1051.38V667.78H1048.24zM1048.24 667.78H1051.38V670.91H1048.24zM1051.38 670.91H1054.51V674.05H1051.38zM1051.38 674.05H1054.51V677.18H1051.38zM1054.51 677.18H1060.78V680.31H1054.51zM1060.78 680.31H1063.92V683.45H1060.78zM1060.78 683.45H1063.92V686.58H1060.78zM1063.92 686.58H1067.06V689.72H1063.92zM1067.06 689.72H1070.19V692.85H1067.06zM1067.06 692.85H1070.19V695.99H1067.06zM1070.19 695.99H1076.46V699.12H1070.19zM1073.33 699.12H1076.46V702.26H1073.33zM1076.46 702.26H1079.60V705.39H1076.46zM1076.46 705.39H1079.60V708.52H1076.46zM1079.60 708.52H1082.74V711.66H1079.60zM1079.60 711.66H1082.74V714.79H1079.60zM1082.74 714.79H1085.87V717.93H1082.74zM1082.74 717.93H1085.87V721.06H1082.74zM1085.87 721.06H1089.01V724.20H1085.87zM1089.01 724.20H1092.14V727.33H1089.01zM1089.01 727.33H1092.14V730.47H1089.01zM1092.14 730.47H1095.28V733.60H1092.14zM1095.28 733.60H1098.41V736.73H1095.28zM1095.28 736.73H1098.41V739.87H1095.28zM1098.41 739.87H1101.55V743.00H1098.41zM1101.55 743.00H1104.69V746.14H1101.55zM1101.55 746.14H1104.69V749.27H1101.55zM1101.55 749.27H1104.69V752.41H1101.55zM1104.69 752.41H1107.82V755.54H1104.69zM1104.69 755.54H1107.82V758.67H1104.69zM1107.82 758.67H1110.96V761.81H1107.82zM1110.96 761.81H1114.09V764.94H1110.96zM1114.09 764.94H1117.23V768.08H1114.09zM1117.23 768.08H1120.37V771.21H1117.23zM1117.23 771.21H1120.37V774.35H1117.23zM1120.37 774.35H1123.50V777.48H1120.37zM1120.37 777.48H1123.50V780.62H1120.37zM1120.37 780.62H1123.50V783.75H1120.37zM1123.50 783.75H1126.64V786.88H1123.50zM1123.50 786.88H1126.64V790.02H1123.50zM1126.64 790.02H1132.91V793.15H1126.64zM1132.91 793.15H1136.05V796.29H1132.91zM1132.91 796.29H1136.05V799.42H1132.91zM1136.05 799.42H1139.18V802.56H1136.05zM1136.05 802.56H1139.18V805.69H1136.05zM1139.18 805.69H1145.45V808.83H1139.18zM1145.45 808.83H1148.59V811.96H1145.45zM1145.45 811.96H1148.59V815.09H1145.45zM1148.59 815.09H1151.73V818.23H1148.59zM1151.73 818.23H1154.86V821.36H1151.73zM1151.73 821.36H1154.86V824.50H1151.73zM1154.86 824.50H1158.00V827.63H1154.86zM1154.86 827.63H1158.00V830.77H1154.86zM1158.00 830.77H1161.13V833.90H1158.00zM1161.13 833.90H1167.40V837.03H1161.13zM1167.40 837.03H1170.54V840.17H1167.40zM1167.40 840.17H1170.54V843.30H1167.40zM1170.54 843.30H1173.68V846.44H1170.54zM1170.54 846.44H1173.68V849.57H1170.54zM1173.68 849.57H1176.81V852.71H1173.68zM1176.81 852.71H1179.95V855.84H1176.81zM1176.81 855.84H1179.95V858.98H1176.81zM1179.95 858.98H1186.22V862.11H1179.95zM1186.22 862.11H1189.36V865.24H1186.22zM1189.36 865.24H1192.49V868.38H1189.36zM1189.36 868.38H1192.49V871.51H1189.36zM1192.49 871.51H1195.63V874.65H1192.49zM1192.49 874.65H1195.63V877.78H1192.49zM1195.63 877.78H1201.90V880.92H1195.63zM1201.90 880.92H1205.04V884.05H1201.90zM1201.90 884.05H1205.04V887.19H1201.90zM1205.04 887.19H1208.17V890.32H1205.04zM1208.17 890.32H1211.31V893.45H1208.17zM1211.31 893.45H1214.44V896.59H1211.31zM1214.44 896.59H1220.72V899.72H1214.44zM1220.72 899.72H1223.85V902.86H1220.72zM1223.85 902.86H1226.99V905.99H1223.85zM1226.99 905.99H1230.12V909.13H1226.99zM1230.12 909.13H1236.39V912.26H1230.12zM1236.39 912.26H1239.53V915.39H1236.39zM1239.53 915.39H1242.67V918.53H1239.53zM1239.53 918.53H1242.67V921.66H1239.53zM1242.67 921.66H1245.80V924.80H1242.67zM1245.80 924.80H1248.94V927.93H1245.80zM1245.80 927.93H1248.94V931.07H1245.80zM1248.94 931.07H1252.07V934.20H1248.94zM1252.07 934.20H1255.21V937.34H1252.07zM1255.21 937.34H1261.48V940.47H1255.21zM1261.48 940.47H1264.62V943.60H1261.48zM1264.62 943.60H1267.75V946.74H1264.62zM1267.75 946.74H1270.89V949.87H1267.75zM1270.89 949.87H1274.03V953.01H1270.89zM1274.03 953.01H1277.16V956.14H1274.03zM1277.16 956.14H1280.30V959.28H1277.16zM1280.30 959.28H1286.57V962.41H1280.30zM1286.57 962.41H1292.84V965.55H1286.57zM1292.84 965.55H1299.11V968.68H1292.84zM1299.11 968.68H1305.38V971.81H1299.11zM1305.38 971.81H1311.66V974.95H1305.38zM1311.66 974.95H1314.79V978.08H1311.66zM1314.79 978.08H1321.06V981.22H1314.79zM1321.06 981.22H1324.20V984.35H1321.06zM1324.20 984.35H1330.47V987.49H1324.20zM1330.47 987.49H1333.61V990.62H1330.47zM1333.61 990.62H1339.88V993.75H1333.61zM1339.88 993.75H1346.15V996.89H1339.88zM1346.15 996.89H1358.69V1000.02H1346.15zM1358.69 1000.02H1364.97V1003.16H1358.69zM1364.97 1003.16H1371.24V1006.29H1364.97zM1371.24 1006.29H1377.51V1009.43H1371.24zM1377.51 1009.43H1386.92V1012.56H1377.51zM1386.92 1012.56H1393.19V1015.70H1386.92zM1393.19 1015.70H1399.46V1018.83H1393.19zM1399.46 1018.83H1408.87V1021.96H1399.46zM1408.87 1021.96H1418.28V1025.10H1408.87zM1415.14 1025.10H1418.28V1028.23H1415.14zM1415.14 1028.23H1430.82V1031.37H1415.14zM1430.82 1031.37H1440.23V1034.50H1430.82zM1440.23 1034.50H1449.64V1037.64H1440.23zM1449.64 1037.64H1465.32V1040.77H1449.64zM1462.18 1040.77H1465.32V1043.91H1462.18zM1462.18 1043.91H1477.86V1047.04H1462.18zM1477.86 1047.04H1490.40V1050.17H1477.86zM1490.40 1050.17H1502.95V1053.31H1490.40zM1502.95 1053.31H1521.76V1056.44H1502.95zM1521.76 1056.44H1534.31V1059.58H1521.76zM1531.17 1059.58H1534.31V1062.71H1531.17zM1531.17 1062.71H1546.85V1065.85H1531.17zM1546.85 1065.85H1559.39V1068.98H1546.85zM1559.39 1068.98H1571.94V1072.11H1559.39zM1571.94 1072.11H1584.48V1075.25H1571.94zM1584.48 1075.25H1593.89V1078.38H1584.48zM1590.75 1078.38H1593.89V1081.52H1590.75zM1590.75 1081.52H1606.43V1084.65H1590.75zM1606.43 1084.65H1622.11V1087.79H1606.43zM1622.11 1087.79H1637.79V1090.92H1622.11zM1637.79 1090.92H1650.33V1094.06H1637.79zM1647.20 1094.06H1650.33V1097.19H1647.20zM1647.20 1097.19H1662.88V1100.32H1647.20zM1662.88 1100.32H1678.56V1103.46H1662.88zM1678.56 1103.46H1694.24V1106.59H1678.56zM1694.24 1106.59H1713.05V1109.73H1694.24zM1713.05 1109.73H1731.87V1112.86H1713.05zM1728.73 1112.86H1731.87V1116.00H1728.73zM1728.73 1116.00H1747.55V1119.13H1728.73zM1747.55 1119.13H1766.36V1122.27H1747.55zM1766.36 1122.27H1788.31V1125.40H1766.36zM1788.31 1125.40H1807.13V1128.53H1788.31zM1803.99 1128.53H1807.13V1131.67H1803.99zM1803.99 1131.67H1816.54V1134.80H1803.99zM1816.54 1134.80H1825.94V1137.94H1816.54zM1825.94 1137.94H1835.35V1141.07H1825.94zM1835.35 1141.07H1841.62V1144.21H1835.35z" fill="#ff0000"/>
<path d="M236.04 297.92H239.18V301.05H236.04zM239.18 301.05H242.31V304.19H239.18zM239.18 304.19H242.31V307.32H239.18zM242.31 307.32H245.45V310.46H242.31zM245.45 310.46H248.59V313.59H245.45zM248.59 313.59H254.86V316.72H248.59zM254.86 316.72H261.13V319.86H254.86zM261.13 319.86H267.40V322.99H261.13zM305.03 344.93H314.44V348.07H305.03zM314.44 348.07H317.58V351.20H314.44zM314.44 351.20H317.58V354.34H314.44zM317.58 354.34H323.85V357.47H317.58zM323.85 357.47H330.12V360.61H323.85zM330.12 360.61H333.26V363.74H330.12zM333.26 363.74H336.39V366.87H333.26zM364.61 382.55H370.89V385.68H364.61zM370.89 385.68H377.16V388.82H370.89zM377.16 388.82H383.43V391.95H377.16zM383.43 391.95H386.57V395.08H383.43zM386.57 395.08H389.70V398.22H386.57zM389.70 398.22H392.84V401.35H389.70zM414.79 410.76H417.92V413.89H414.79zM417.92 413.89H424.20V417.03H417.92zM424.20 417.03H433.60V420.16H424.20zM433.60 420.16H436.74V423.29H433.60zM436.74 423.29H443.01V426.43H436.74zM443.01 426.43H446.15V429.56H443.01zM468.10 435.83H471.24V438.97H468.10zM471.24 438.97H477.51V442.10H471.24zM477.51 442.10H483.78V445.23H477.51zM483.78 445.23H490.05V448.37H483.78zM490.05 448.37H496.32V451.50H490.05zM496.32 451.50H499.46V454.64H496.32zM530.82 464.04H533.95V467.18H530.82zM533.95 467.18H543.36V470.31H533.95zM543.36 470.31H549.63V473.44H543.36zM549.63 473.44H555.90V476.58H549.63zM555.90 476.58H559.04V479.71H555.90zM587.26 485.98H593.54V489.12H587.26zM593.54 489.12H599.81V492.25H593.54zM599.81 492.25H606.08V495.39H599.81zM606.08 495.39H612.35V498.52H606.08zM612.35 498.52H618.62V501.65H612.35zM624.89 501.65H634.30V504.79H624.89zM643.71 504.79H649.98V507.92H643.71zM649.98 507.92H659.39V511.06H649.98zM659.39 511.06H665.66V514.19H659.39zM665.66 514.19H678.20V517.33H665.66zM703.29 520.46H706.43V523.59H703.29zM703.29 523.59H728.38V526.73H703.29zM728.38 526.73H731.51V529.86H728.38zM731.51 529.86H737.79V533.00H731.51zM759.74 536.13H766.01V539.27H759.74zM766.01 539.27H775.42V542.40H766.01zM775.42 542.40H784.83V545.54H775.42zM784.83 545.54H787.96V548.67H784.83zM787.96 548.67H791.10V551.80H787.96zM822.46 554.94H825.59V558.07H822.46zM825.59 558.07H831.86V561.21H825.59zM831.86 561.21H838.14V564.34H831.86zM838.14 564.34H844.41V567.48H838.14zM844.41 567.48H856.95V570.61H844.41zM875.77 583.15H882.04V586.28H875.77zM882.04 586.28H888.31V589.42H882.04zM888.31 589.42H894.58V592.55H888.31zM894.58 592.55H900.85V595.69H894.58zM900.85 595.69H903.99V598.82H900.85zM903.99 598.82H910.26V601.95H903.99zM929.08 614.49H932.21V617.63H929.08zM932.21 617.63H935.35V620.76H932.21zM935.35 620.76H938.48V623.90H935.35zM938.48 623.90H941.62V627.03H938.48zM941.62 627.03H947.89V630.16H941.62zM947.89 630.16H951.03V633.30H947.89zM951.03 633.30H954.16V636.43H951.03zM954.16 636.43H957.30V639.57H954.16zM982.39 661.51H985.52V664.64H982.39zM985.52 664.64H988.66V667.78H985.52zM985.52 667.78H988.66V670.91H985.52zM988.66 670.91H991.79V674.05H988.66zM988.66 674.05H991.79V677.18H988.66zM991.79 677.18H994.93V680.31H991.79zM994.93 680.31H998.07V683.45H994.93zM998.07 683.45H1001.20V686.58H998.07zM1001.20 686.58H1004.34V689.72H1001.20zM1004.34 689.72H1007.47V692.85H1004.34zM1026.29 721.06H1029.43V724.20H1026.29zM1029.43 724.20H1032.56V727.33H1029.43zM1029.43 727.33H1032.56V730.47H1029.43zM1032.56 730.47H1035.70V733.60H1032.56zM1032.56 733.60H1035.70V736.73H1032.56zM1035.70 736.73H1038.83V739.87H1035.70zM1038.83 739.87H1041.97V743.00H1038.83zM1038.83 743.00H1041.97V746.14H1038.83zM1041.97 746.14H1045.10V749.27H1041.97zM1041.97 749.27H1045.10V752.41H1041.97zM1045.10 752.41H1048.24V755.54H1045.10zM1063.92 780.62H1067.06V783.75H1063.92zM1063.92 783.75H1067.06V786.88H1063.92zM1063.92 786.88H1067.06V790.02H1063.92zM1067.06 790.02H1070.19V793.15H1067.06zM1070.19 793.15H1076.46V796.29H1070.19zM1076.46 796.29H1079.60V799.42H1076.46zM1076.46 799.42H1079.60V802.56H1076.46zM1076.46 802.56H1079.60V805.69H1076.46zM1076.46 805.69H1079.60V808.83H1076.46zM1079.60 808.83H1082.74V811.96H1079.60zM1079.60 811.96H1082.74V815.09H1079.60zM1104.69 843.30H1110.96V846.44H1104.69zM1110.96 846.44H1114.09V849.57H1110.96zM1114.09 849.57H1117.23V852.71H1114.09zM1117.23 852.71H1120.37V855.84H1117.23zM1117.23 855.84H1120.37V858.98H1117.23zM1120.37 858.98H1123.50V862.11H1120.37zM1120.37 862.11H1123.50V865.24H1120.37zM1123.50 865.24H1126.64V868.38H1123.50zM1126.64 868.38H1132.91V871.51H1126.64zM1129.77 871.51H1132.91V874.65H1129.77zM1129.77 874.65H1132.91V877.78H1129.77zM1154.86 896.59H1158.00V899.72H1154.86zM1158.00 899.72H1161.13V902.86H1158.00zM1161.13 902.86H1164.27V905.99H1161.13zM1164.27 905.99H1167.40V909.13H1164.27zM1167.40 909.13H1170.54V912.26H1167.40zM1170.54 912.26H1173.68V915.39H1170.54zM1173.68 915.39H1176.81V918.53H1173.68zM1176.81 918.53H1179.95V921.66H1176.81zM1179.95 921.66H1183.08V924.80H1179.95zM1201.90 937.34H1205.04V940.47H1201.90zM1205.04 940.47H1208.17V943.60H1205.04zM1208.17 943.60H1214.44V946.74H1208.17zM1214.44 946.74H1217.58V949.87H1214.44zM1217.58 949.87H1220.72V953.01H1217.58zM1220.72 953.01H1223.85V956.14H1220.72zM1223.85 956.14H1230.12V959.28H1223.85zM1230.12 959.28H1233.26V962.41H1230.12zM1233.26 962.41H1236.39V965.55H1233.26zM1258.35 978.08H1261.48V981.22H1258.35zM1261.48 981.22H1267.75V984.35H1261.48zM1267.75 984.35H1270.89V987.49H1267.75zM1270.89 987.49H1277.16V990.62H1270.89zM1277.16 990.62H1283.43V993.75H1277.16zM1283.43 993.75H1286.57V996.89H1283.43zM1311.66 1003.16H1314.79V1006.29H1311.66zM1314.79 1006.29H1321.06V1009.43H1314.79zM1321.06 1009.43H1324.20V1012.56H1321.06zM1324.20 1012.56H1330.47V1015.70H1324.20zM1330.47 1015.70H1336.74V1018.83H1330.47zM1336.74 1018.83H1339.88V1021.96H1336.74zM1364.97 1034.50H1377.51V1037.64H1364.97zM1377.51 1037.64H1383.78V1040.77H1377.51zM1383.78 1040.77H1386.92V1043.91H1383.78zM1383.78 1043.91H1386.92V1047.04H1383.78zM1386.92 1047.04H1393.19V1050.17H1386.92zM1415.14 1056.44H1418.28V1059.58H1415.14zM1418.28 1059.58H1421.41V1062.71H1418.28zM1421.41 1062.71H1430.82V1065.85H1421.41zM1430.82 1065.85H1443.36V1068.98H1430.82zM1440.23 1068.98H1443.36V1072.11H1440.23zM1465.32 1075.25H1474.72V1078.38H1465.32zM1471.59 1078.38H1474.72V1081.52H1471.59zM1474.72 1081.52H1477.86V1084.65H1474.72zM1477.86 1084.65H1496.67V1087.79H1477.86zM1496.67 1087.79H1499.81V1090.92H1496.67zM1521.76 1090.92H1524.90V1094.06H1521.76zM1524.90 1094.06H1531.17V1097.19H1524.90zM1531.17 1097.19H1543.71V1100.32H1531.17zM1543.71 1100.32H1556.26V1103.46H1543.71zM1584.48 1103.46H1600.16V1106.59H1584.48zM1597.02 1106.59H1615.84V1109.73H1597.02zM1644.06 1116.00H1659.74V1119.13H1644.06zM1662.88 1116.00H1675.42V1119.13H1662.88zM1656.61 1119.13H1666.01V1122.27H1656.61zM1697.37 1125.40H1703.64V1128.53H1697.37zM1700.51 1128.53H1706.78V1131.67H1700.51zM1706.78 1131.67H1719.32V1134.80H1706.78zM1716.19 1134.80H1731.87V1137.94H1716.19zM1738.14 1137.94H1747.55V1141.07H1738.14zM1756.95 1144.21H1766.36V1147.34H1756.95zM1763.23 1147.34H1766.36V1150.47H1763.23zM1766.36 1150.47H1772.63V1153.61H1766.36zM1772.63 1153.61H1785.18V1156.74H1772.63zM1785.18 1156.74H1791.45V1159.88H1785.18zM1813.40 1156.74H1825.94V1159.88H1813.40zM1813.40 1159.88H1816.54V1163.01H1813.40z" fill="#ff0000"/>
</g>
<path d="M232.91 65.97H1857.30V69.11H232.91zM232.91 69.11H236.04V72.24H232.91zM1851.03 69.11H1854.17V72.24H1851.03zM232.91 72.24H236.04V75.38H232.91zM1851.03 72.24H1854.17V75.38H1851.03zM232.91 75.38H236.04V78.51H232.91zM1851.03 75.38H1854.17V78.51H1851.03zM232.91 78.51H236.04V81.64H232.91zM1851.03 78.51H1854.17V81.64H1851.03zM232.91 81.64H236.04V84.78H232.91zM1851.03 81.64H1854.17V84.78H1851.03zM232.91 84.78H236.04V87.91H232.91zM1851.03 84.78H1854.17V87.91H1851.03zM232.91 87.91H236.04V91.05H232.91zM1851.03 87.91H1854.17V91.05H1851.03zM232.91 91.05H236.04V94.18H232.91zM1851.03 91.05H1854.17V94.18H1851.03zM232.91 94.18H236.04V97.32H232.91zM1851.03 94.18H1854.17V97.32H1851.03zM232.91 97.32H236.04V100.45H232.91zM1851.03 97.32H1854.17V100.45H1851.03zM232.91 100.45H236.04V103.59H232.91zM1851.03 100.45H1854.17V103.59H1851.03zM232.91 103.59H236.04V106.72H232.91zM1851.03 103.59H1854.17V106.72H1851.03zM232.91 106.72H236.04V109.85H232.91zM1851.03 106.72H1854.17V109.85H1851.03zM232.91 109.85H236.04V112.99H232.91zM1851.03 109.85H1854.17V112.99H1851.03zM232.91 112.99H236.04V116.12H232.91zM1851.03 112.99H1854.17V116.12H1851.03zM232.91 116.12H236.04V119.26H232.91zM1851.03 116.12H1854.17V119.26H1851.03zM232.91 119.26H236.04V122.39H232.91zM1851.03 119.26H1854.17V122.39H1851.03zM232.91 122.39H236.04V125.53H232.91zM1851.03 122.39H1854.17V125.53H1851.03zM232.91 125.53H236.04V128.66H232.91zM1851.03 125.53H1854.17V128.66H1851.03zM232.91 128.66H236.04V131.79H232.91zM1851.03 128.66H1854.17V131.79H1851.03zM232.91 131.79H236.04V134.93H232.91zM1851.03 131.79H1854.17V134.93H1851.03zM232.91 134.93H236.04V138.06H232.91zM1851.03 134.93H1854.17V138.06H1851.03zM232.91 138.06H236.04V141.20H232.91zM1851.03 138.06H1854.17V141.20H1851.03zM232.91 141.20H236.04V144.33H232.91zM1851.03 141.20H1854.17V144.33H1851.03zM232.91 144.33H236.04V147.47H232.91zM1851.03 144.33H1854.17V147.47H1851.03zM232.91 147.47H236.04V150.60H232.91zM1851.03 147.47H1854.17V150.60H1851.03zM232.91 150.60H236.04V153.74H232.91zM1851.03 150.60H1854.17V153.74H1851.03zM232.91 153.74H236.04V156.87H232.91zM1851.03 153.74H1854.17V156.87H1851.03zM232.91 156.87H236.04V160.00H232.91zM1851.03 156.87H1854.17V160.00H1851.03zM232.91 160.00H236.04V163.14H232.91zM1851.03 160.00H1854.17V163.14H1851.03zM232.91 163.14H236.04V166.27H232.91zM1851.03 163.14H1854.17V166.27H1851.03zM232.91 166.27H236.04V169.41H232.91zM1851.03 166.27H1854.17V169.41H1851.03zM232.91 169.41H236.04V172.54H232.91zM1851.03 169.41H1854.17V172.54H1851.03zM232.91 172.54H236.04V175.68H232.91zM1851.03 172.54H1854.17V175.68H1851.03zM232.91 175.68H236.04V178.81H232.91zM1851.03 175.68H1854.17V178.81H1851.03zM232.91 178.81H236.04V181.95H232.91zM1851.03 178.81H1854.17V181.95H1851.03zM232.91 181.95H236.04V185.08H232.91zM1851.03 181.95H1854.17V185.08H1851.03zM232.91 185.08H236.04V188.21H232.91zM1851.03 185.08H1854.17V188.21H1851.03zM232.91 188.21H236.04V191.35H232.91zM1851.03 188.21H1854.17V191.35H1851.03zM232.91 191.35H236.04V194.48H232.91zM1851.03 191.35H1854.17V194.48H1851.03zM232.91 194.48H236.04V197.62H232.91zM1851.03 194.48H1854.17V197.62H1851.03zM232.91 197.62H236.04V200.75H232.91zM1851.03 197.62H1854.17V200.75H1851.03zM232.91 200.75H236.04V203.89H232.91zM1851.03 200.75H1854.17V203.89H1851.03zM232.91 203.89H236.04V207.02H232.91zM1851.03 203.89H1854.17V207.02H1851.03zM232.91 207.02H236.04V210.15H232.91zM1851.03 207.02H1854.17V210.15H1851.03zM232.91 210.15H236.04V213.29H232.91zM1851.03 210.15H1854.17V213.29H1851.03zM232.91 213.29H236.04V216.42H232.91zM1851.03 213.29H1854.17V216.42H1851.03zM232.91 216.42H236.04V219.56H232.91zM1851.03 216.42H1854.17V219.56H1851.03zM232.91 219.56H236.04V222.69H232.91zM1851.03 219.56H1854.17V222.69H1851.03zM232.91 222.69H236.04V225.83H232.91zM1851.03 222.69H1854.17V225.83H1851.03zM232.91 225.83H236.04V228.96H232.91zM1851.03 225.83H1854.17V228.96H1851.03zM232.91 228.96H236.04V232.10H232.91zM1851.03 228.96H1854.17V232.10H1851.03zM232.91 232.10H236.04V235.23H232.91zM1851.03 232.10H1854.17V235.23H1851.03zM232.91 235.23H236.04V238.36H232.91zM1851.03 235.23H1854.17V238.36H1851.03zM232.91 238.36H236.04V241.50H232.91zM1851.03 238.36H1854.17V241.50H1851.03zM232.91 241.50H236.04V244.63H232.91zM1851.03 241.50H1854.17V244.63H1851.03zM232.91 244.63H236.04V247.77H232.91zM1851.03 244.63H1854.17V247.77H1851.03zM232.91 247.77H236.04V250.90H232.91zM1851.03 247.77H1854.17V250.90H1851.03zM232.91 250.90H236.04V254.04H232.91zM1851.03 250.90H1854.17V254.04H1851.03zM232.91 254.04H236.04V257.17H232.91zM1851.03 254.04H1854.17V257.17H1851.03zM232.91 257.17H236.04V260.31H232.91zM1851.03 257.17H1854.17V260.31H1851.03zM232.91 260.31H236.04V263.44H232.91zM1851.03 260.31H1854.17V263.44H1851.03zM232.91 263.44H236.04V266.57H232.91zM1851.03 263.44H1854.17V266.57H1851.03zM232.91 266.57H236.04V269.71H232.91zM1851.03 266.57H1854.17V269.71H1851.03zM232.91 269.71H236.04V272.84H232.91zM1851.03 269.71H1854.17V272.84H1851.03zM232.91 272.84H236.04V275.98H232.91zM1851.03 272.84H1854.17V275.98H1851.03zM232.91 275.98H236.04V279.11H232.91zM1851.03 275.98H1854.17V279.11H1851.03zM232.91 279.11H236.04V282.25H232.91zM1851.03 279.11H1854.17V282.25H1851.03zM232.91 282.25H236.04V285.38H232.91zM1851.03 282.25H1854.17V285.38H1851.03zM232.91 285.38H236.04V288.51H232.91zM1851.03 285.38H1854.17V288.51H1851.03zM232.91 288.51H236.04V291.65H232.91zM1851.03 288.51H1854.17V291.65H1851.03zM232.91 291.65H236.04V294.78H232.91zM1851.03 291.65H1854.17V294.78H1851.03zM232.91 294.78H236.04V297.92H232.91zM1851.03 294.78H1854.17V297.92H1851.03zM232.91 297.92H261.13V301.05H232.91zM1851.03 297.92H1854.17V301.05H1851.03zM232.91 301.05H236.04V304.19H232.91zM1851.03 301.05H1854.17V304.19H1851.03zM232.91 304.19H236.04V307.32H232.91zM1851.03 304.19H1854.17V307.32H1851.03zM232.91 307.32H236.04V310.46H232.91zM1851.03 307.32H1854.17V310.46H1851.03zM232.91 310.46H236.04V313.59H232.91zM1851.03 310.46H1854.17V313.59H1851.03zM232.91 313.59H236.04V316.72H232.91zM1851.03 313.59H1854.17V316.72H1851.03zM232.91 316.72H236.04V319.86H232.91zM1851.03 316.72H1854.17V319.86H1851.03zM232.91 319.86H236.04V322.99H232.91zM1851.03 319.86H1854.17V322.99H1851.03zM232.91 322.99H236.04V326.13H232.91zM1851.03 322.99H1854.17V326.13H1851.03zM232.91 326.13H236.04V329.26H232.91zM1851.03 326.13H1854.17V329.26H1851.03zM232.91 329.26H236.04V332.40H232.91zM1851.03 329.26H1854.17V332.40H1851.03zM232.91 332.40H236.04V335.53H232.91zM1851.03 332.40H1854.17V335.53H1851.03zM232.91 335.53H236.04V338.67H232.91zM1851.03 335.53H1854.17V338.67H1851.03zM232.91 338.67H236.04V341.80H232.91zM1851.03 338.67H1854.17V341.80H1851.03zM232.91 341.80H236.04V344.93H232.91zM1851.03 341.80H1854.17V344.93H1851.03zM232.91 344.93H236.04V348.07H232.91zM1851.03 344.93H1854.17V348.07H1851.03zM232.91 348.07H236.04V351.20H232.91zM1851.03 348.07H1854.17V351.20H1851.03zM232.91 351.20H236.04V354.34H232.91zM1851.03 351.20H1854.17V354.34H1851.03zM232.91 354.34H236.04V357.47H232.91zM1851.03 354.34H1854.17V357.47H1851.03zM232.91 357.47H236.04V360.61H232.91zM1851.03 357.47H1854.17V360.61H1851.03zM232.91 360.61H236.04V363.74H232.91zM1851.03 360.61H1854.17V363.74H1851.03zM232.91 363.74H236.04V366.87H232.91zM1851.03 363.74H1854.17V366.87H1851.03zM232.91 366.87H236.04V370.01H232.91zM1851.03 366.87H1854.17V370.01H1851.03zM232.91 370.01H236.04V373.14H232.91zM1851.03 370.01H1854.17V373.14H1851.03zM232.91 373.14H236.04V376.28H232.91zM1851.03 373.14H1854.17V376.28H1851.03zM232.91 376.28H236.04V379.41H232.91zM1851.03 376.28H1854.17V379.41H1851.03zM232.91 379.41H236.04V382.55H232.91zM1851.03 379.41H1854.17V382.55H1851.03zM232.91 382.55H236.04V385.68H232.91zM1851.03 382.55H1854.17V385.68H1851.03zM232.91 385.68H236.04V388.82H232.91zM1851.03 385.68H1854.17V388.82H1851.03zM232.91 388.82H236.04V391.95H232.91zM1851.03 388.82H1854.17V391.95H1851.03zM232.91 391.95H236.04V395.08H232.91zM1851.03 391.95H1854.17V395.08H1851.03zM232.91 395.08H236.04V398.22H232.91zM1851.03 395.08H1854.17V398.22H1851.03zM232.91 398.22H236.04V401.35H232.91zM1851.03 398.22H1854.17V401.35H1851.03zM232.91 401.35H236.04V404.49H232.91zM1851.03 401.35H1854.17V404.49H1851.03zM232.91 404.49H236.04V407.62H232.91zM1851.03 404.49H1854.17V407.62H1851.03zM232.91 407.62H236.04V410.76H232.91zM1851.03 407.62H1854.17V410.76H1851.03zM232.91 410.76H236.04V413.89H232.91zM1851.03 410.76H1854.17V413.89H1851.03zM232.91 413.89H236.04V417.03H232.91zM1851.03 413.89H1854.17V417.03H1851.03zM232.91 417.03H236.04V420.16H232.91zM1851.03 417.03H1854.17V420.16H1851.03zM232.91 420.16H236.04V423.29H232.91zM1851.03 420.16H1854.17V423.29H1851.03zM232.91 423.29H236.04V426.43H232.91zM1851.03 423.29H1854.17V426.43H1851.03zM232.91 426.43H236.04V429.56H232.91zM1851.03 426.43H1854.17V429.56H1851.03zM232.91 429.56H236.04V432.70H232.91zM1851.03 429.56H1854.17V432.70H1851.03zM232.91 432.70H236.04V435.83H232.91zM1851.03 432.70H1854.17V435.83H1851.03zM232.91 435.83H236.04V438.97H232.91zM1851.03 435.83H1854.17V438.97H1851.03zM232.91 438.97H236.04V442.10H232.91zM1851.03 438.97H1854.17V442.10H1851.03zM232.91 442.10H236.04V445.23H232.91zM1851.03 442.10H1854.17V445.23H1851.03zM232.91 445.23H236.04V448.37H232.91zM1851.03 445.23H1854.17V448.37H1851.03zM232.91 448.37H236.04V451.50H232.91zM1851.03 448.37H1854.17V451.50H1851.03zM232.91 451.50H236.04V454.64H232.91zM1851.03 451.50H1854.17V454.64H1851.03zM232.91 454.64H236.04V457.77H232.91zM1851.03 454.64H1854.17V457.77H1851.03zM232.91 457.77H236.04V460.91H232.91zM1851.03 457.77H1854.17V460.91H1851.03zM232.91 460.91H236.04V464.04H232.91zM1851.03 460.91H1854.17V464.04H1851.03zM232.91 464.04H236.04V467.18H232.91zM1851.03 464.04H1854.17V467.18H1851.03zM232.91 467.18H236.04V470.31H232.91zM1851.03 467.18H1854.17V470.31H1851.03zM232.91 470.31H236.04V473.44H232.91zM1851.03 470.31H1854.17V473.44H1851.03zM232.91 473.44H236.04V476.58H232.91zM1851.03 473.44H1854.17V476.58H1851.03zM232.91 476.58H236.04V479.71H232.91zM1851.03 476.58H1854.17V479.71H1851.03zM232.91 479.71H236.04V482.85H232.91zM1851.03 479.71H1854.17V482.85H1851.03zM232.91 482.85H236.04V485.98H232.91zM1851.03 482.85H1854.17V485.98H1851.03zM232.91 485.98H236.04V489.12H232.91zM1851.03 485.98H1854.17V489.12H1851.03zM232.91 489.12H236.04V492.25H232.91zM1851.03 489.12H1854.17V492.25H1851.03zM232.91 492.25H236.04V495.39H232.91zM1851.03 492.25H1854.17V495.39H1851.03zM232.91 495.39H236.04V498.52H232.91zM1851.03 495.39H1854.17V498.52H1851.03zM232.91 498.52H236.04V501.65H232.91zM1851.03 498.52H1854.17V501.65H1851.03zM232.91 501.65H236.04V504.79H232.91zM1851.03 501.65H1854.17V504.79H1851.03zM232.91 504.79H236.04V507.92H232.91zM1851.03 504.79H1854.17V507.92H1851.03zM232.91 507.92H236.04V511.06H232.91zM1851.03 507.92H1854.17V511.06H1851.03zM232.91 511.06H236.04V514.19H232.91zM1851.03 511.06H1854.17V514.19H1851.03zM232.91 514.19H236.04V517.33H232.91zM1851.03 514.19H1854.17V517.33H1851.03zM232.91 517.33H236.04V520.46H232.91zM1851.03 517.33H1854.17V520.46H1851.03zM232.91 520.46H236.04V523.59H232.91zM1851.03 520.46H1854.17V523.59H1851.03zM232.91 523.59H236.04V526.73H232.91zM1851.03 523.59H1854.17V526.73H1851.03zM232.91 526.73H236.04V529.86H232.91zM1851.03 526.73H1854.17V529.86H1851.03zM232.91 529.86H236.04V533.00H232.91zM1851.03 529.86H1854.17V533.00H1851.03zM232.91 533.00H236.04V536.13H232.91zM1851.03 533.00H1854.17V536.13H1851.03zM232.91 536.13H261.13V539.27H232.91zM1851.03 536.13H1854.17V539.27H1851.03zM232.91 539.27H236.04V542.40H232.91zM1851.03 539.27H1854.17V542.40H1851.03zM232.91 542.40H236.04V545.54H232.91zM1851.03 542.40H1854.17V545.54H1851.03zM232.91 545.54H236.04V548.67H232.91zM1851.03 545.54H1854.17V548.67H1851.03zM232.91 548.67H236.04V551.80H232.91zM1851.03 548.67H1854.17V551.80H1851.03zM232.91 551.80H236.04V554.94H232.91zM1851.03 551.80H1854.17V554.94H1851.03zM232.91 554.94H236.04V558.07H232.91zM1851.03 554.94H1854.17V558.07H1851.03zM232.91 558.07H236.04V561.21H232.91zM1851.03 558.07H1854.17V561.21H1851.03zM232.91 561.21H236.04V564.34H232.91zM1851.03 561.21H1854.17V564.34H1851.03zM232.91 564.34H236.04V567.48H232.91zM1851.03 564.34H1854.17V567.48H1851.03zM232.91 567.48H236.04V570.61H232.91zM1851.03 567.48H1854.17V570.61H1851.03zM232.91 570.61H236.04V573.75H232.91zM1851.03 570.61H1854.17V573.75H1851.03zM232.91 573.75H236.04V576.88H232.91zM1851.03 573.75H1854.17V576.88H1851.03zM232.91 576.88H236.04V580.01H232.91zM1851.03 576.88H1854.17V580.01H1851.03zM232.91 580.01H236.04V583.15H232.91zM1851.03 580.01H1854.17V583.15H1851.03zM232.91 583.15H236.04V586.28H232.91zM1851.03 583.15H1854.17V586.28H1851.03zM232.91 586.28H236.04V589.42H232.91zM1851.03 586.28H1854.17V589.42H1851.03zM232.91 589.42H236.04V592.55H232.91zM1851.03 589.42H1854.17V592.55H1851.03zM232.91 592.55H236.04V595.69H232.91zM1851.03 592.55H1854.17V595.69H1851.03zM232.91 595.69H236.04V598.82H232.91zM1851.03 595.69H1854.17V598.82H1851.03zM232.91 598.82H236.04V601.95H232.91zM1851.03 598.82H1854.17V601.95H1851.03zM232.91 601.95H236.04V605.09H232.91zM1851.03 601.95H1854.17V605.09H1851.03zM232.91 605.09H236.04V608.22H232.91zM1851.03 605.09H1854.17V608.22H1851.03zM232.91 608.22H236.04V611.36H232.91zM1851.03 608.22H1854.17V611.36H1851.03zM232.91 611.36H236.04V614.49H232.91zM1851.03 611.36H1854.17V614.49H1851.03zM232.91 614.49H236.04V617.63H232.91zM1851.03 614.49H1854.17V617.63H1851.03zM232.91 617.63H236.04V620.76H232.91zM1851.03 617.63H1854.17V620.76H1851.03zM232.91 620.76H236.04V623.90H232.91zM1851.03 620.76H1854.17V623.90H1851.03zM232.91 623.90H236.04V627.03H232.91zM1851.03 623.90H1854.17V627.03H1851.03zM232.91 627.03H236.04V630.16H232.91zM1851.03 627.03H1854.17V630.16H1851.03zM232.91 630.16H236.04V633.30H232.91zM1851.03 630.16H1854.17V633.30H1851.03zM232.91 633.30H236.04V636.43H232.91zM1851.03 633.30H1854.17V636.43H1851.03zM232.91 636.43H236.04V639.57H232.91zM1851.03 636.43H1854.17V639.57H1851.03zM232.91 639.57H236.04V642.70H232.91zM1851.03 639.57H1854.17V642.70H1851.03zM232.91 642.70H236.04V645.84H232.91zM1851.03 642.70H1854.17V645.84H1851.03zM232.91 645.84H236.04V648.97H232.91zM1851.03 645.84H1854.17V648.97H1851.03zM232.91 648.97H236.04V652.11H232.91zM1851.03 648.97H1854.17V652.11H1851.03zM232.91 652.11H236.04V655.24H232.91zM1851.03 652.11H1854.17V655.24H1851.03zM232.91 655.24H236.04V658.37H232.91zM1851.03 655.24H1854.17V658.37H1851.03zM232.91 658.37H236.04V661.51H232.91zM1851.03 658.37H1854.17V661.51H1851.03zM232.91 661.51H236.04V664.64H232.91zM1851.03 661.51H1854.17V664.64H1851.03zM232.91 664.64H236.04V667.78H232.91zM1851.03 664.64H1854.17V667.78H1851.03zM232.91 667.78H236.04V670.91H232.91zM1851.03 667.78H1854.17V670.91H1851.03zM232.91 670.91H236.04V674.05H232.91zM1851.03 670.91H1854.17V674.05H1851.03zM232.91 674.05H236.04V677.18H232.91zM1851.03 674.05H1854.17V677.18H1851.03zM232.91 677.18H236.04V680.31H232.91zM1851.03 677.18H1854.17V680.31H1851.03zM232.91 680.31H236.04V683.45H232.91zM1851.03 680.31H1854.17V683.45H1851.03zM232.91 683.45H236.04V686.58H232.91zM1851.03 683.45H1854.17V686.58H1851.03zM232.91 686.58H236.04V689.72H232.91zM1851.03 686.58H1854.17V689.72H1851.03zM232.91 689.72H236.04V692.85H232.91zM1851.03 689.72H1854.17V692.85H1851.03zM232.91 692.85H236.04V695.99H232.91zM1851.03 692.85H1854.17V695.99H1851.03zM232.91 695.99H236.04V699.12H232.91zM1851.03 695.99H1854.17V699.12H1851.03zM232.91 699.12H236.04V702.26H232.91zM1851.03 699.12H1854.17V702.26H1851.03zM232.91 702.26H236.04V705.39H232.91zM1851.03 702.26H1854.17V705.39H1851.03zM232.91 705.39H236.04V708.52H232.91zM1851.03 705.39H1854.17V708.52H1851.03zM232.91 708.52H236.04V711.66H232.91zM1851.03 708.52H1854.17V711.66H1851.03zM232.91 711.66H236.04V714.79H232.91zM1851.03 711.66H1854.17V714.79H1851.03zM232.91 714.79H236.04V717.93H232.91zM1851.03 714.79H1854.17V717.93H1851.03zM232.91 717.93H236.04V721.06H232.91zM1851.03 717.93H1854.17V721.06H1851.03zM232.91 721.06H236.04V724.20H232.91zM1851.03 721.06H1854.17V724.20H1851.03zM232.91 724.20H236.04V727.33H232.91zM1851.03 724.20H1854.17V727.33H1851.03zM232.91 727.33H236.04V730.47H232.91zM1851.03 727.33H1854.17V730.47H1851.03zM232.91 730.47H236.04V733.60H232.91zM1851.03 730.47H1854.17V733.60H1851.03zM232.91 733.60H236.04V736.73H232.91zM1851.03 733.60H1854.17V736.73H1851.03zM232.91 736.73H236.04V739.87H232.91zM1851.03 736.73H1854.17V739.87H1851.03zM232.91 739.87H236.04V743.00H232.91zM1851.03 739.87H1854.17V743.00H1851.03zM232.91 743.00H236.04V746.14H232.91zM1851.03 743.00H1854.17V746.14H1851.03zM232.91 746.14H236.04V749.27H232.91zM1851.03 746.14H1854.17V749.27H1851.03zM232.91 749.27H236.04V752.41H232.91zM1851.03 749.27H1854.17V752.41H1851.03zM232.91 752.41H236.04V755.54H232.91zM1851.03 752.41H1854.17V755.54H1851.03zM232.91 755.54H236.04V758.67H232.91zM1851.03 755.54H1854.17V758.67H1851.03zM232.91 758.67H236.04V761.81H232.91zM1851.03 758.67H1854.17V761.81H1851.03zM232.91 761.81H236.04V764.94H232.91zM1851.03 761.81H1854.17V764.94H1851.03zM232.91 764.94H236.04V768.08H232.91zM1851.03 764.94H1854.17V768.08H1851.03zM232.91 768.08H236.04V771.21H232.91zM1851.03 768.08H1854.17V771.21H1851.03zM232.91 771.21H261.13V774.35H232.91zM1851.03 771.21H1854.17V774.35H1851.03zM232.91 774.35H236.04V777.48H232.91zM1851.03 774.35H1854.17V777.48H1851.03zM232.91 777.48H236.04V780.62H232.91zM1851.03 777.48H1854.17V780.62H1851.03zM232.91 780.62H236.04V783.75H232.91zM1851.03 780.62H1854.17V783.75H1851.03zM232.91 783.75H236.04V786.88H232.91zM1851.03 783.75H1854.17V786.88H1851.03zM232.91 786.88H236.04V790.02H232.91zM1851.03 786.88H1854.17V790.02H1851.03zM232.91 790.02H236.04V793.15H232.91zM1851.03 790.02H1854.17V793.15H1851.03zM232.91 793.15H236.04V796.29H232.91zM1851.03 793.15H1854.17V796.29H1851.03zM232.91 796.29H236.04V799.42H232.91zM1851.03 796.29H1854.17V799.42H1851.03zM232.91 799.42H236.04V802.56H232.91zM1851.03 799.42H1854.17V802.56H1851.03zM232.91 802.56H236.04V805.69H232.91zM1851.03 802.56H1854.17V805.69H1851.03zM232.91 805.69H236.04V808.83H232.91zM1851.03 805.69H1854.17V808.83H1851.03zM232.91 808.83H236.04V811.96H232.91zM1851.03 808.83H1854.17V811.96H1851.03zM232.91 811.96H236.04V815.09H232.91zM1851.03 811.96H1854.17V815.09H1851.03zM232.91 815.09H236.04V818.23H232.91zM1851.03 815.09H1854.17V818.23H1851.03zM232.91 818.23H236.04V821.36H232.91zM1851.03 818.23H1854.17V821.36H1851.03zM232.91 821.36H236.04V824.50H232.91zM1851.03 821.36H1854.17V824.50H1851.03zM232.91 824.50H236.04V827.63H232.91zM1851.03 824.50H1854.17V827.63H1851.03zM232.91 827.63H236.04V830.77H232.91zM1851.03 827.63H1854.17V830.77H1851.03zM232.91 830.77H236.04V833.90H232.91zM1851.03 830.77H1854.17V833.90H1851.03zM232.91 833.90H236.04V837.03H232.91zM1851.03 833.90H1854.17V837.03H1851.03zM232.91 837.03H236.04V840.17H232.91zM1851.03 837.03H1854.17V840.17H1851.03zM232.91 840.17H236.04V843.30H232.91zM1851.03 840.17H1854.17V843.30H1851.03zM232.91 843.30H236.04V846.44H232.91zM1851.03 843.30H1854.17V846.44H1851.03zM232.91 846.44H236.04V849.57H232.91zM1851.03 846.44H1854.17V849.57H1851.03zM232.91 849.57H236.04V852.71H232.91zM1851.03 849.57H1854.17V852.71H1851.03zM232.91 852.71H236.04V855.84H232.91zM1851.03 852.71H1854.17V855.84H1851.03zM232.91 855.84H236.04V858.98H232.91zM1851.03 855.84H1854.17V858.98H1851.03zM232.91 858.98H236.04V862.11H232.91zM1851.03 858.98H1854.17V862.11H1851.03zM232.91 862.11H236.04V865.24H232.91zM1851.03 862.11H1854.17V865.24H1851.03zM232.91 865.24H236.04V868.38H232.91zM1851.03 865.24H1854.17V868.38H1851.03zM232.91 868.38H236.04V871.51H232.91zM1851.03 868.38H1854.17V871.51H1851.03zM232.91 871.51H236.04V874.65H232.91zM1851.03 871.51H1854.17V874.65H1851.03zM232.91 874.65H236.04V877.78H232.91zM1851.03 874.65H1854.17V877.78H1851.03zM232.91 877.78H236.04V880.92H232.91zM1851.03 877.78H1854.17V880.92H1851.03zM232.91 880.92H236.04V884.05H232.91zM1851.03 880.92H1854.17V884.05H1851.03zM232.91 884.05H236.04V887.19H232.91zM1851.03 884.05H1854.17V887.19H1851.03zM232.91 887.19H236.04V890.32H232.91zM1851.03 887.19H1854.17V890.32H1851.03zM232.91 890.32H236.04V893.45H232.91zM1851.03 890.32H1854.17V893.45H1851.03zM232.91 893.45H236.04V896.59H232.91zM1851.03 893.45H1854.17V896.59H1851.03zM232.91 896.59H236.04V899.72H232.91zM1851.03 896.59H1854.17V899.72H1851.03zM232.91 899.72H236.04V902.86H232.91zM1851.03 899.72H1854.17V902.86H1851.03zM232.91 902.86H236.04V905.99H232.91zM1851.03 902.86H1854.17V905.99H1851.03zM232.91 905.99H236.04V909.13H232.91zM1851.03 905.99H1854.17V909.13H1851.03zM232.91 909.13H236.04V912.26H232.91zM1851.03 909.13H1854.17V912.26H1851.03zM232.91 912.26H236.04V915.39H232.91zM1851.03 912.26H1854.17V915.39H1851.03zM232.91 915.39H236.04V918.53H232.91zM1851.03 915.39H1854.17V918.53H1851.03zM232.91 918.53H236.04V921.66H232.91zM1851.03 918.53H1854.17V921.66H1851.03zM232.91 921.66H236.04V924.80H232.91zM1851.03 921.66H1854.17V924.80H1851.03zM232.91 924.80H236.04V927.93H232.91zM1851.03 924.80H1854.17V927.93H1851.03zM232.91 927.93H236.04V931.07H232.91zM1851.03 927.93H1854.17V931.07H1851.03zM232.91 931.07H236.04V934.20H232.91zM1851.03 931.07H1854.17V934.20H1851.03zM232.91 934.20H236.04V937.34H232.91zM1851.03 934.20H1854.17V937.34H1851.03zM232.91 937.34H236.04V940.47H232.91zM1851.03 937.34H1854.17V940.47H1851.03zM232.91 940.47H236.04V943.60H232.91zM1851.03 940.47H1854.17V943.60H1851.03zM232.91 943.60H236.04V946.74H232.91zM1851.03 943.60H1854.17V946.74H1851.03zM232.91 946.74H236.04V949.87H232.91zM1851.03 946.74H1854.17V949.87H1851.03zM232.91 949.87H236.04V953.01H232.91zM1851.03 949.87H1854.17V953.01H1851.03zM232.91 953.01H236.04V956.14H232.91zM1851.03 953.01H1854.17V956.14H1851.03zM232.91 956.14H236.04V959.28H232.91zM1851.03 956.14H1854.17V959.28H1851.03zM232.91 959.28H236.04V962.41H232.91zM1851.03 959.28H1854.17V962.41H1851.03zM232.91 962.41H236.04V965.55H232.91zM1851.03 962.41H1854.17V965.55H1851.03zM232.91 965.55H236.04V968.68H232.91zM1851.03 965.55H1854.17V968.68H1851.03zM232.91 968.68H236.04V971.81H232.91zM1851.03 968.68H1854.17V971.81H1851.03zM232.91 971.81H236.04V974.95H232.91zM1851.03 971.81H1854.17V974.95H1851.03zM232.91 974.95H236.04V978.08H232.91zM1851.03 974.95H1854.17V978.08H1851.03zM232.91 978.08H236.04V981.22H232.91zM1851.03 978.08H1854.17V981.22H1851.03zM232.91 981.22H236.04V984.35H232.91zM1851.03 981.22H1854.17V984.35H1851.03zM232.91 984.35H236.04V987.49H232.91zM1851.03 984.35H1854.17V987.49H1851.03zM232.91 987.49H236.04V990.62H232.91zM1851.03 987.49H1854.17V990.62H1851.03zM232.91 990.62H236.04V993.75H232.91zM1851.03 990.62H1854.17V993.75H1851.03zM232.91 993.75H236.04V996.89H232.91zM1851.03 993.75H1854.17V996.89H1851.03zM232.91 996.89H236.04V1000.02H232.91zM1851.03 996.89H1854.17V1000.02H1851.03zM232.91 1000.02H236.04V1003.16H232.91zM1851.03 1000.02H1854.17V1003.16H1851.03zM232.91 1003.16H261.13V1006.29H232.91zM1851.03 1003.16H1854.17V1006.29H1851.03zM232.91 1006.29H236.04V1009.43H232.91zM1851.03 1006.29H1854.17V1009.43H1851.03zM232.91 1009.43H236.04V1012.56H232.91zM1851.03 1009.43H1854.17V1012.56H1851.03zM232.91 1012.56H236.04V1015.70H232.91zM1851.03 1012.56H1854.17V1015.70H1851.03zM232.91 1015.70H236.04V1018.83H232.91zM1851.03 1015.70H1854.17V1018.83H1851.03zM232.91 1018.83H236.04V1021.96H232.91zM1851.03 1018.83H1854.17V1021.96H1851.03zM232.91 1021.96H236.04V1025.10H232.91zM1851.03 1021.96H1854.17V1025.10H1851.03zM232.91 1025.10H236.04V1028.23H232.91zM1851.03 1025.10H1854.17V1028.23H1851.03zM232.91 1028.23H236.04V1031.37H232.91zM1851.03 1028.23H1854.17V1031.37H1851.03zM232.91 1031.37H236.04V1034.50H232.91zM1851.03 1031.37H1854.17V1034.50H1851.03zM232.91 1034.50H236.04V1037.64H232.91zM1851.03 1034.50H1854.17V1037.64H1851.03zM232.91 1037.64H236.04V1040.77H232.91zM1851.03 1037.64H1854.17V1040.77H1851.03zM232.91 1040.77H236.04V1043.91H232.91zM1851.03 1040.77H1854.17V1043.91H1851.03zM232.91 1043.91H236.04V1047.04H232.91zM1851.03 1043.91H1854.17V1047.04H1851.03zM232.91 1047.04H236.04V1050.17H232.91zM1851.03 1047.04H1854.17V1050.17H1851.03zM232.91 1050.17H236.04V1053.31H232.91zM1851.03 1050.17H1854.17V1053.31H1851.03zM232.91 1053.31H236.04V1056.44H232.91zM1851.03 1053.31H1854.17V1056.44H1851.03zM232.91 1056.44H236.04V1059.58H232.91zM1851.03 1056.44H1854.17V1059.58H1851.03zM232.91 1059.58H236.04V1062.71H232.91zM1851.03 1059.58H1854.17V1062.71H1851.03zM232.91 1062.71H236.04V1065.85H232.91zM1851.03 1062.71H1854.17V1065.85H1851.03zM232.91 1065.85H236.04V1068.98H232.91zM1851.03 1065.85H1854.17V1068.98H1851.03zM232.91 1068.98H236.04V1072.11H232.91zM1851.03 1068.98H1854.17V1072.11H1851.03zM232.91 1072.11H236.04V1075.25H232.91zM1851.03 1072.11H1854.17V1075.25H1851.03zM232.91 1075.25H236.04V1078.38H232.91zM1851.03 1075.25H1854.17V1078.38H1851.03zM232.91 1078.38H236.04V1081.52H232.91zM1851.03 1078.38H1854.17V1081.52H1851.03zM232.91 1081.52H236.04V1084.65H232.91zM1851.03 1081.52H1854.17V1084.65H1851.03zM232.91 1084.65H236.04V1087.79H232.91zM1851.03 1084.65H1854.17V1087.79H1851.03zM232.91 1087.79H236.04V1090.92H232.91zM1851.03 1087.79H1854.17V1090.92H1851.03zM232.91 1090.92H236.04V1094.06H232.91zM1851.03 1090.92H1854.17V1094.06H1851.03zM232.91 1094.06H236.04V1097.19H232.91zM1851.03 1094.06H1854.17V1097.19H1851.03zM232.91 1097.19H236.04V1100.32H232.91zM1851.03 1097.19H1854.17V1100.32H1851.03zM232.91 1100.32H236.04V1103.46H232.91zM1851.03 1100.32H1854.17V1103.46H1851.03zM232.91 1103.46H236.04V1106.59H232.91zM1851.03 1103.46H1854.17V1106.59H1851.03zM232.91 1106.59H236.04V1109.73H232.91zM1851.03 1106.59H1854.17V1109.73H1851.03zM232.91 1109.73H236.04V1112.86H232.91zM1851.03 1109.73H1854.17V1112.86H1851.03zM232.91 1112.86H236.04V1116.00H232.91zM1851.03 1112.86H1854.17V1116.00H1851.03zM232.91 1116.00H236.04V1119.13H232.91zM1851.03 1116.00H1854.17V1119.13H1851.03zM232.91 1119.13H236.04V1122.27H232.91zM1851.03 1119.13H1854.17V1122.27H1851.03zM232.91 1122.27H236.04V1125.40H232.91zM1851.03 1122.27H1854.17V1125.40H1851.03zM232.91 1125.40H236.04V1128.53H232.91zM1851.03 1125.40H1854.17V1128.53H1851.03zM232.91 1128.53H236.04V1131.67H232.91zM1851.03 1128.53H1854.17V1131.67H1851.03zM232.91 1131.67H236.04V1134.80H232.91zM1851.03 1131.67H1854.17V1134.80H1851.03zM232.91 1134.80H236.04V1137.94H232.91zM1851.03 1134.80H1854.17V1137.94H1851.03zM232.91 1137.94H236.04V1141.07H232.91zM1851.03 1137.94H1854.17V1141.07H1851.03zM232.91 1141.07H236.04V1144.21H232.91zM1851.03 1141.07H1854.17V1144.21H1851.03zM232.91 1144.21H236.04V1147.34H232.91zM1851.03 1144.21H1854.17V1147.34H1851.03zM232.91 1147.34H236.04V1150.47H232.91zM1851.03 1147.34H1854.17V1150.47H1851.03zM232.91 1150.47H236.04V1153.61H232.91zM1851.03 1150.47H1854.17V1153.61H1851.03zM232.91 1153.61H236.04V1156.74H232.91zM1851.03 1153.61H1854.17V1156.74H1851.03zM232.91 1156.74H236.04V1159.88H232.91zM1851.03 1156.74H1854.17V1159.88H1851.03zM232.91 1159.88H236.04V1163.01H232.91zM1851.03 1159.88H1854.17V1163.01H1851.03zM232.91 1163.01H236.04V1166.15H232.91zM1851.03 1163.01H1854.17V1166.15H1851.03zM232.91 1166.15H236.04V1169.28H232.91zM1851.03 1166.15H1854.17V1169.28H1851.03zM232.91 1169.28H236.04V1172.42H232.91zM1851.03 1169.28H1854.17V1172.42H1851.03zM232.91 1172.42H236.04V1175.55H232.91zM1851.03 1172.42H1854.17V1175.55H1851.03zM232.91 1175.55H236.04V1178.68H232.91zM1851.03 1175.55H1854.17V1178.68H1851.03zM232.91 1178.68H236.04V1181.82H232.91zM1851.03 1178.68H1854.17V1181.82H1851.03zM232.91 1181.82H236.04V1184.95H232.91zM1851.03 1181.82H1854.17V1184.95H1851.03zM232.91 1184.95H236.04V1188.09H232.91zM1851.03 1184.95H1854.17V1188.09H1851.03zM232.91 1188.09H236.04V1191.22H232.91zM1851.03 1188.09H1854.17V1191.22H1851.03zM232.91 1191.22H236.04V1194.36H232.91zM1851.03 1191.22H1854.17V1194.36H1851.03zM232.91 1194.36H236.04V1197.49H232.91zM1851.03 1194.36H1854.17V1197.49H1851.03zM232.91 1197.49H236.04V1200.63H232.91zM1851.03 1197.49H1854.17V1200.63H1851.03zM232.91 1200.63H236.04V1203.76H232.91zM1851.03 1200.63H1854.17V1203.76H1851.03zM232.91 1203.76H236.04V1206.89H232.91zM1851.03 1203.76H1854.17V1206.89H1851.03zM232.91 1206.89H236.04V1210.03H232.91zM1851.03 1206.89H1854.17V1210.03H1851.03zM232.91 1210.03H236.04V1213.16H232.91zM1851.03 1210.03H1854.17V1213.16H1851.03zM232.91 1213.16H236.04V1216.30H232.91zM1851.03 1213.16H1854.17V1216.30H1851.03zM232.91 1216.30H236.04V1219.43H232.91zM1851.03 1216.30H1854.17V1219.43H1851.03zM232.91 1219.43H236.04V1222.57H232.91zM1851.03 1219.43H1854.17V1222.57H1851.03zM232.91 1222.57H236.04V1225.70H232.91zM1851.03 1222.57H1854.17V1225.70H1851.03zM232.91 1225.70H236.04V1228.83H232.91zM1851.03 1225.70H1854.17V1228.83H1851.03zM232.91 1228.83H236.04V1231.97H232.91zM1851.03 1228.83H1854.17V1231.97H1851.03zM232.91 1231.97H236.04V1235.10H232.91zM1851.03 1231.97H1854.17V1235.10H1851.03zM232.91 1235.10H236.04V1238.24H232.91zM1851.03 1235.10H1854.17V1238.24H1851.03zM232.91 1238.24H236.04V1241.37H232.91zM1851.03 1238.24H1854.17V1241.37H1851.03zM232.91 1241.37H261.13V1244.51H232.91zM1851.03 1241.37H1854.17V1244.51H1851.03zM232.91 1244.51H236.04V1247.64H232.91zM1851.03 1244.51H1854.17V1247.64H1851.03zM232.91 1247.64H236.04V1250.78H232.91zM1851.03 1247.64H1854.17V1250.78H1851.03zM232.91 1250.78H236.04V1253.91H232.91zM1851.03 1250.78H1854.17V1253.91H1851.03zM232.91 1253.91H236.04V1257.04H232.91zM1851.03 1253.91H1854.17V1257.04H1851.03zM232.91 1257.04H236.04V1260.18H232.91zM1851.03 1257.04H1854.17V1260.18H1851.03zM232.91 1260.18H236.04V1263.31H232.91zM1851.03 1260.18H1854.17V1263.31H1851.03zM232.91 1263.31H236.04V1266.45H232.91zM1851.03 1263.31H1854.17V1266.45H1851.03zM232.91 1266.45H236.04V1269.58H232.91zM1851.03 1266.45H1854.17V1269.58H1851.03zM232.91 1269.58H236.04V1272.72H232.91zM1851.03 1269.58H1854.17V1272.72H1851.03zM232.91 1272.72H236.04V1275.85H232.91zM1851.03 1272.72H1854.17V1275.85H1851.03zM232.91 1275.85H236.04V1278.99H232.91zM1851.03 1275.85H1854.17V1278.99H1851.03zM232.91 1278.99H236.04V1282.12H232.91zM1851.03 1278.99H1854.17V1282.12H1851.03zM232.91 1282.12H236.04V1285.25H232.91zM1851.03 1282.12H1854.17V1285.25H1851.03zM232.91 1285.25H236.04V1288.39H232.91zM1851.03 1285.25H1854.17V1288.39H1851.03zM232.91 1288.39H236.04V1291.52H232.91zM1851.03 1288.39H1854.17V1291.52H1851.03zM232.91 1291.52H236.04V1294.66H232.91zM1851.03 1291.52H1854.17V1294.66H1851.03zM232.91 1294.66H236.04V1297.79H232.91zM1851.03 1294.66H1854.17V1297.79H1851.03zM232.91 1297.79H236.04V1300.93H232.91zM1851.03 1297.79H1854.17V1300.93H1851.03zM232.91 1300.93H236.04V1304.06H232.91zM1851.03 1300.93H1854.17V1304.06H1851.03zM232.91 1304.06H236.04V1307.19H232.91zM1851.03 1304.06H1854.17V1307.19H1851.03zM232.91 1307.19H236.04V1310.33H232.91zM1851.03 1307.19H1854.17V1310.33H1851.03zM232.91 1310.33H236.04V1313.46H232.91zM1851.03 1310.33H1854.17V1313.46H1851.03zM232.91 1313.46H236.04V1316.60H232.91zM1851.03 1313.46H1854.17V1316.60H1851.03zM232.91 1316.60H236.04V1319.73H232.91zM1851.03 1316.60H1854.17V1319.73H1851.03zM232.91 1319.73H236.04V1322.87H232.91zM1851.03 1319.73H1854.17V1322.87H1851.03zM232.91 1322.87H236.04V1326.00H232.91zM1851.03 1322.87H1854.17V1326.00H1851.03zM232.91 1326.00H236.04V1329.14H232.91zM1851.03 1326.00H1854.17V1329.14H1851.03zM232.91 1329.14H236.04V1332.27H232.91zM1851.03 1329.14H1854.17V1332.27H1851.03zM232.91 1332.27H236.04V1335.40H232.91zM1851.03 1332.27H1854.17V1335.40H1851.03zM232.91 1335.40H236.04V1338.54H232.91zM1851.03 1335.40H1854.17V1338.54H1851.03zM232.91 1338.54H236.04V1341.67H232.91zM1851.03 1338.54H1854.17V1341.67H1851.03zM232.91 1341.67H236.04V1344.81H232.91zM1851.03 1341.67H1854.17V1344.81H1851.03zM232.91 1344.81H236.04V1347.94H232.91zM1851.03 1344.81H1854.17V1347.94H1851.03zM232.91 1347.94H236.04V1351.08H232.91zM1851.03 1347.94H1854.17V1351.08H1851.03zM232.91 1351.08H236.04V1354.21H232.91zM1851.03 1351.08H1854.17V1354.21H1851.03zM232.91 1354.21H236.04V1357.35H232.91zM1851.03 1354.21H1854.17V1357.35H1851.03zM232.91 1357.35H236.04V1360.48H232.91zM1851.03 1357.35H1854.17V1360.48H1851.03zM232.91 1360.48H236.04V1363.61H232.91zM1851.03 1360.48H1854.17V1363.61H1851.03zM232.91 1363.61H236.04V1366.75H232.91zM1851.03 1363.61H1854.17V1366.75H1851.03zM232.91 1366.75H236.04V1369.88H232.91zM1851.03 1366.75H1854.17V1369.88H1851.03zM232.91 1369.88H236.04V1373.02H232.91zM1851.03 1369.88H1854.17V1373.02H1851.03zM232.91 1373.02H236.04V1376.15H232.91zM1851.03 1373.02H1854.17V1376.15H1851.03zM232.91 1376.15H236.04V1379.29H232.91zM1851.03 1376.15H1854.17V1379.29H1851.03zM232.91 1379.29H236.04V1382.42H232.91zM1851.03 1379.29H1854.17V1382.42H1851.03zM232.91 1382.42H236.04V1385.55H232.91zM1851.03 1382.42H1854.17V1385.55H1851.03zM232.91 1385.55H236.04V1388.69H232.91zM1851.03 1385.55H1854.17V1388.69H1851.03zM232.91 1388.69H236.04V1391.82H232.91zM1851.03 1388.69H1854.17V1391.82H1851.03zM232.91 1391.82H236.04V1394.96H232.91zM1851.03 1391.82H1854.17V1394.96H1851.03zM232.91 1394.96H236.04V1398.09H232.91zM1851.03 1394.96H1854.17V1398.09H1851.03zM232.91 1398.09H236.04V1401.23H232.91zM1851.03 1398.09H1854.17V1401.23H1851.03zM232.91 1401.23H236.04V1404.36H232.91zM1851.03 1401.23H1854.17V1404.36H1851.03zM232.91 1404.36H236.04V1407.50H232.91zM1851.03 1404.36H1854.17V1407.50H1851.03zM232.91 1407.50H236.04V1410.63H232.91zM1851.03 1407.50H1854.17V1410.63H1851.03zM232.91 1410.63H236.04V1413.76H232.91zM1851.03 1410.63H1854.17V1413.76H1851.03zM232.91 1413.76H236.04V1416.90H232.91zM1851.03 1413.76H1854.17V1416.90H1851.03zM232.91 1416.90H236.04V1420.03H232.91zM1851.03 1416.90H1854.17V1420.03H1851.03zM232.91 1420.03H236.04V1423.17H232.91zM1851.03 1420.03H1854.17V1423.17H1851.03zM232.91 1423.17H236.04V1426.30H232.91zM1851.03 1423.17H1854.17V1426.30H1851.03zM232.91 1426.30H236.04V1429.44H232.91zM1851.03 1426.30H1854.17V1429.44H1851.03zM232.91 1429.44H236.04V1432.57H232.91zM1851.03 1429.44H1854.17V1432.57H1851.03zM232.91 1432.57H236.04V1435.71H232.91zM1851.03 1432.57H1854.17V1435.71H1851.03zM232.91 1435.71H236.04V1438.84H232.91zM1851.03 1435.71H1854.17V1438.84H1851.03zM232.91 1438.84H236.04V1441.97H232.91zM1851.03 1438.84H1854.17V1441.97H1851.03zM232.91 1441.97H236.04V1445.11H232.91zM1851.03 1441.97H1854.17V1445.11H1851.03zM232.91 1445.11H236.04V1448.24H232.91zM1851.03 1445.11H1854.17V1448.24H1851.03zM232.91 1448.24H236.04V1451.38H232.91zM1851.03 1448.24H1854.17V1451.38H1851.03zM232.91 1451.38H236.04V1454.51H232.91zM486.91 1451.38H490.05V1454.51H486.91zM828.73 1451.38H831.86V1454.51H828.73zM1170.54 1451.38H1173.68V1454.51H1170.54zM1512.35 1451.38H1515.49V1454.51H1512.35zM1851.03 1451.38H1854.17V1454.51H1851.03zM232.91 1454.51H236.04V1457.65H232.91zM486.91 1454.51H490.05V1457.65H486.91zM828.73 1454.51H831.86V1457.65H828.73zM1170.54 1454.51H1173.68V1457.65H1170.54zM1512.35 1454.51H1515.49V1457.65H1512.35zM1851.03 1454.51H1854.17V1457.65H1851.03zM232.91 1457.65H236.04V1460.78H232.91zM486.91 1457.65H490.05V1460.78H486.91zM828.73 1457.65H831.86V1460.78H828.73zM1170.54 1457.65H1173.68V1460.78H1170.54zM1512.35 1457.65H1515.49V1460.78H1512.35zM1851.03 1457.65H1854.17V1460.78H1851.03zM232.91 1460.78H236.04V1463.91H232.91zM486.91 1460.78H490.05V1463.91H486.91zM828.73 1460.78H831.86V1463.91H828.73zM1170.54 1460.78H1173.68V1463.91H1170.54zM1512.35 1460.78H1515.49V1463.91H1512.35zM1851.03 1460.78H1854.17V1463.91H1851.03zM232.91 1463.91H236.04V1467.05H232.91zM486.91 1463.91H490.05V1467.05H486.91zM828.73 1463.91H831.86V1467.05H828.73zM1170.54 1463.91H1173.68V1467.05H1170.54zM1512.35 1463.91H1515.49V1467.05H1512.35zM1851.03 1463.91H1854.17V1467.05H1851.03zM232.91 1467.05H236.04V1470.18H232.91zM486.91 1467.05H490.05V1470.18H486.91zM828.73 1467.05H831.86V1470.18H828.73zM1170.54 1467.05H1173.68V1470.18H1170.54zM1512.35 1467.05H1515.49V1470.18H1512.35zM1851.03 1467.05H1854.17V1470.18H1851.03zM232.91 1470.18H236.04V1473.32H232.91zM486.91 1470.18H490.05V1473.32H486.91zM828.73 1470.18H831.86V1473.32H828.73zM1170.54 1470.18H1173.68V1473.32H1170.54zM1512.35 1470.18H1515.49V1473.32H1512.35zM1851.03 1470.18H1854.17V1473.32H1851.03zM232.91 1473.32H236.04V1476.45H232.91zM486.91 1473.32H490.05V1476.45H486.91zM828.73 1473.32H831.86V1476.45H828.73zM1170.54 1473.32H1173.68V1476.45H1170.54zM1512.35 1473.32H1515.49V1476.45H1512.35zM1851.03 1473.32H1854.17V1476.45H1851.03zM232.91 1476.45H1857.30V1479.59H232.91z" fill="#000"/>
<g fill="#1c1c1c" font-size="55" stroke="#fff" stroke-width="0.6">
<text x="98.60" y="84.8" letter-spacing="0.30">120</text>
<text x="104.60" y="316.8" letter-spacing="-2.50">100</text>
<text x="130.20" y="555.0" letter-spacing="0.00">80</text>
<text x="129.20" y="790.0" letter-spacing="1.00">60</text>
<text x="131.20" y="1021.9" letter-spacing="-1.00">40</text>
<text x="130.20" y="1260.2" letter-spacing="0.00">20</text>
<text x="159.00" y="1495.3" letter-spacing="0.00">0</text>
<text x="441.00" y="1558" letter-spacing="0.30">100</text>
<text x="781.30" y="1558" letter-spacing="1.40">200</text>
<text x="1120.90" y="1558" letter-spacing="2.00">300</text>
<text x="1464.00" y="1558" letter-spacing="1.50">400</text>
<text x="1804.40" y="1558" letter-spacing="0.40">500</text>
</g>
<rect x="101.35" y="79.89" width="11.58" height="6.11" fill="#fff"/>
<rect x="116.79" y="79.89" width="10.96" height="6.11" fill="#fff"/>
<rect x="107.35" y="311.89" width="11.58" height="6.11" fill="#fff"/>
<rect x="122.79" y="311.89" width="10.96" height="6.11" fill="#fff"/>
<rect x="443.75" y="1553.09" width="11.58" height="6.11" fill="#fff"/>
<rect x="459.19" y="1553.09" width="10.96" height="6.11" fill="#fff"/>
<g fill="#1c1c1c" stroke="#fff" stroke-width="0.6">
<text transform="scale(0.9523,1)" x="892.7 921.6 947.4 985.9 1017.6 1043.9 1059.1 1083.7 1098.7 1123.3 1139.5 1168.7 1186.1 1200.0 1217.3 1255.7" y="1654.5" font-size="48.7">Temperature (°C)</text>
<text transform="translate(71,900.4) rotate(-90) scale(0.9335,1)" x="-0.1 55.3 86.4 98.4 129.7 165.3 199.4 197.8 214.3 263.3" y="0" font-size="56.7">Weight (%)</text>
</g>
<rect x="389.70" y="918.53" width="598.96" height="476.43" fill="#fff"/>
<path d="M389.70 918.53H988.66V921.66H389.70zM389.70 921.66H392.84V924.80H389.70zM985.52 921.66H988.66V924.80H985.52zM389.70 924.80H392.84V927.93H389.70zM985.52 924.80H988.66V927.93H985.52zM389.70 927.93H392.84V931.07H389.70zM985.52 927.93H988.66V931.07H985.52zM389.70 931.07H392.84V934.20H389.70zM985.52 931.07H988.66V934.20H985.52zM389.70 934.20H392.84V937.34H389.70zM985.52 934.20H988.66V937.34H985.52zM389.70 937.34H392.84V940.47H389.70zM985.52 937.34H988.66V940.47H985.52zM389.70 940.47H392.84V943.60H389.70zM985.52 940.47H988.66V943.60H985.52zM389.70 943.60H392.84V946.74H389.70zM985.52 943.60H988.66V946.74H985.52zM389.70 946.74H392.84V949.87H389.70zM985.52 946.74H988.66V949.87H985.52zM389.70 949.87H392.84V953.01H389.70zM985.52 949.87H988.66V953.01H985.52zM389.70 953.01H392.84V956.14H389.70zM985.52 953.01H988.66V956.14H985.52zM389.70 956.14H392.84V959.28H389.70zM985.52 956.14H988.66V959.28H985.52zM389.70 959.28H392.84V962.41H389.70zM985.52 959.28H988.66V962.41H985.52zM389.70 962.41H392.84V965.55H389.70zM985.52 962.41H988.66V965.55H985.52zM389.70 965.55H392.84V968.68H389.70zM985.52 965.55H988.66V968.68H985.52zM389.70 968.68H392.84V971.81H389.70zM985.52 968.68H988.66V971.81H985.52zM389.70 971.81H392.84V974.95H389.70zM985.52 971.81H988.66V974.95H985.52zM389.70 974.95H392.84V978.08H389.70zM985.52 974.95H988.66V978.08H985.52zM389.70 978.08H392.84V981.22H389.70zM985.52 978.08H988.66V981.22H985.52zM389.70 981.22H392.84V984.35H389.70zM985.52 981.22H988.66V984.35H985.52zM389.70 984.35H392.84V987.49H389.70zM985.52 984.35H988.66V987.49H985.52zM389.70 987.49H392.84V990.62H389.70zM985.52 987.49H988.66V990.62H985.52zM389.70 990.62H392.84V993.75H389.70zM985.52 990.62H988.66V993.75H985.52zM389.70 993.75H392.84V996.89H389.70zM985.52 993.75H988.66V996.89H985.52zM389.70 996.89H392.84V1000.02H389.70zM985.52 996.89H988.66V1000.02H985.52zM389.70 1000.02H392.84V1003.16H389.70zM985.52 1000.02H988.66V1003.16H985.52zM389.70 1003.16H392.84V1006.29H389.70zM985.52 1003.16H988.66V1006.29H985.52zM389.70 1006.29H392.84V1009.43H389.70zM985.52 1006.29H988.66V1009.43H985.52zM389.70 1009.43H392.84V1012.56H389.70zM985.52 1009.43H988.66V1012.56H985.52zM389.70 1012.56H392.84V1015.70H389.70zM985.52 1012.56H988.66V1015.70H985.52zM389.70 1015.70H392.84V1018.83H389.70zM985.52 1015.70H988.66V1018.83H985.52zM389.70 1018.83H392.84V1021.96H389.70zM985.52 1018.83H988.66V1021.96H985.52zM389.70 1021.96H392.84V1025.10H389.70zM985.52 1021.96H988.66V1025.10H985.52zM389.70 1025.10H392.84V1028.23H389.70zM985.52 1025.10H988.66V1028.23H985.52zM389.70 1028.23H392.84V1031.37H389.70zM985.52 1028.23H988.66V1031.37H985.52zM389.70 1031.37H392.84V1034.50H389.70zM985.52 1031.37H988.66V1034.50H985.52zM389.70 1034.50H392.84V1037.64H389.70zM985.52 1034.50H988.66V1037.64H985.52zM389.70 1037.64H392.84V1040.77H389.70zM985.52 1037.64H988.66V1040.77H985.52zM389.70 1040.77H392.84V1043.91H389.70zM985.52 1040.77H988.66V1043.91H985.52zM389.70 1043.91H392.84V1047.04H389.70zM985.52 1043.91H988.66V1047.04H985.52zM389.70 1047.04H392.84V1050.17H389.70zM985.52 1047.04H988.66V1050.17H985.52zM389.70 1050.17H392.84V1053.31H389.70zM985.52 1050.17H988.66V1053.31H985.52zM389.70 1053.31H392.84V1056.44H389.70zM985.52 1053.31H988.66V1056.44H985.52zM389.70 1056.44H392.84V1059.58H389.70zM985.52 1056.44H988.66V1059.58H985.52zM389.70 1059.58H392.84V1062.71H389.70zM985.52 1059.58H988.66V1062.71H985.52zM389.70 1062.71H392.84V1065.85H389.70zM985.52 1062.71H988.66V1065.85H985.52zM389.70 1065.85H392.84V1068.98H389.70zM985.52 1065.85H988.66V1068.98H985.52zM389.70 1068.98H392.84V1072.11H389.70zM985.52 1068.98H988.66V1072.11H985.52zM389.70 1072.11H392.84V1075.25H389.70zM985.52 1072.11H988.66V1075.25H985.52zM389.70 1075.25H392.84V1078.38H389.70zM985.52 1075.25H988.66V1078.38H985.52zM389.70 1078.38H392.84V1081.52H389.70zM985.52 1078.38H988.66V1081.52H985.52zM389.70 1081.52H392.84V1084.65H389.70zM985.52 1081.52H988.66V1084.65H985.52zM389.70 1084.65H392.84V1087.79H389.70zM985.52 1084.65H988.66V1087.79H985.52zM389.70 1087.79H392.84V1090.92H389.70zM985.52 1087.79H988.66V1090.92H985.52zM389.70 1090.92H392.84V1094.06H389.70zM985.52 1090.92H988.66V1094.06H985.52zM389.70 1094.06H392.84V1097.19H389.70zM985.52 1094.06H988.66V1097.19H985.52zM389.70 1097.19H392.84V1100.32H389.70zM985.52 1097.19H988.66V1100.32H985.52zM389.70 1100.32H392.84V1103.46H389.70zM985.52 1100.32H988.66V1103.46H985.52zM389.70 1103.46H392.84V1106.59H389.70zM985.52 1103.46H988.66V1106.59H985.52zM389.70 1106.59H392.84V1109.73H389.70zM985.52 1106.59H988.66V1109.73H985.52zM389.70 1109.73H392.84V1112.86H389.70zM985.52 1109.73H988.66V1112.86H985.52zM389.70 1112.86H392.84V1116.00H389.70zM985.52 1112.86H988.66V1116.00H985.52zM389.70 1116.00H392.84V1119.13H389.70zM985.52 1116.00H988.66V1119.13H985.52zM389.70 1119.13H392.84V1122.27H389.70zM985.52 1119.13H988.66V1122.27H985.52zM389.70 1122.27H392.84V1125.40H389.70zM985.52 1122.27H988.66V1125.40H985.52zM389.70 1125.40H392.84V1128.53H389.70zM985.52 1125.40H988.66V1128.53H985.52zM389.70 1128.53H392.84V1131.67H389.70zM985.52 1128.53H988.66V1131.67H985.52zM389.70 1131.67H392.84V1134.80H389.70zM985.52 1131.67H988.66V1134.80H985.52zM389.70 1134.80H392.84V1137.94H389.70zM985.52 1134.80H988.66V1137.94H985.52zM389.70 1137.94H392.84V1141.07H389.70zM985.52 1137.94H988.66V1141.07H985.52zM389.70 1141.07H392.84V1144.21H389.70zM985.52 1141.07H988.66V1144.21H985.52zM389.70 1144.21H392.84V1147.34H389.70zM985.52 1144.21H988.66V1147.34H985.52zM389.70 1147.34H392.84V1150.47H389.70zM985.52 1147.34H988.66V1150.47H985.52zM389.70 1150.47H392.84V1153.61H389.70zM985.52 1150.47H988.66V1153.61H985.52zM389.70 1153.61H392.84V1156.74H389.70zM985.52 1153.61H988.66V1156.74H985.52zM389.70 1156.74H392.84V1159.88H389.70zM985.52 1156.74H988.66V1159.88H985.52zM389.70 1159.88H392.84V1163.01H389.70zM985.52 1159.88H988.66V1163.01H985.52zM389.70 1163.01H392.84V1166.15H389.70zM985.52 1163.01H988.66V1166.15H985.52zM389.70 1166.15H392.84V1169.28H389.70zM985.52 1166.15H988.66V1169.28H985.52zM389.70 1169.28H392.84V1172.42H389.70zM985.52 1169.28H988.66V1172.42H985.52zM389.70 1172.42H392.84V1175.55H389.70zM985.52 1172.42H988.66V1175.55H985.52zM389.70 1175.55H392.84V1178.68H389.70zM985.52 1175.55H988.66V1178.68H985.52zM389.70 1178.68H392.84V1181.82H389.70zM985.52 1178.68H988.66V1181.82H985.52zM389.70 1181.82H392.84V1184.95H389.70zM985.52 1181.82H988.66V1184.95H985.52zM389.70 1184.95H392.84V1188.09H389.70zM985.52 1184.95H988.66V1188.09H985.52zM389.70 1188.09H392.84V1191.22H389.70zM985.52 1188.09H988.66V1191.22H985.52zM389.70 1191.22H392.84V1194.36H389.70zM985.52 1191.22H988.66V1194.36H985.52zM389.70 1194.36H392.84V1197.49H389.70zM985.52 1194.36H988.66V1197.49H985.52zM389.70 1197.49H392.84V1200.63H389.70zM985.52 1197.49H988.66V1200.63H985.52zM389.70 1200.63H392.84V1203.76H389.70zM985.52 1200.63H988.66V1203.76H985.52zM389.70 1203.76H392.84V1206.89H389.70zM985.52 1203.76H988.66V1206.89H985.52zM389.70 1206.89H392.84V1210.03H389.70zM985.52 1206.89H988.66V1210.03H985.52zM389.70 1210.03H392.84V1213.16H389.70zM985.52 1210.03H988.66V1213.16H985.52zM389.70 1213.16H392.84V1216.30H389.70zM985.52 1213.16H988.66V1216.30H985.52zM389.70 1216.30H392.84V1219.43H389.70zM985.52 1216.30H988.66V1219.43H985.52zM389.70 1219.43H392.84V1222.57H389.70zM985.52 1219.43H988.66V1222.57H985.52zM389.70 1222.57H392.84V1225.70H389.70zM985.52 1222.57H988.66V1225.70H985.52zM389.70 1225.70H392.84V1228.83H389.70zM985.52 1225.70H988.66V1228.83H985.52zM389.70 1228.83H392.84V1231.97H389.70zM985.52 1228.83H988.66V1231.97H985.52zM389.70 1231.97H392.84V1235.10H389.70zM985.52 1231.97H988.66V1235.10H985.52zM389.70 1235.10H392.84V1238.24H389.70zM985.52 1235.10H988.66V1238.24H985.52zM389.70 1238.24H392.84V1241.37H389.70zM985.52 1238.24H988.66V1241.37H985.52zM389.70 1241.37H392.84V1244.51H389.70zM985.52 1241.37H988.66V1244.51H985.52zM389.70 1244.51H392.84V1247.64H389.70zM985.52 1244.51H988.66V1247.64H985.52zM389.70 1247.64H392.84V1250.78H389.70zM985.52 1247.64H988.66V1250.78H985.52zM389.70 1250.78H392.84V1253.91H389.70zM985.52 1250.78H988.66V1253.91H985.52zM389.70 1253.91H392.84V1257.04H389.70zM985.52 1253.91H988.66V1257.04H985.52zM389.70 1257.04H392.84V1260.18H389.70zM985.52 1257.04H988.66V1260.18H985.52zM389.70 1260.18H392.84V1263.31H389.70zM985.52 1260.18H988.66V1263.31H985.52zM389.70 1263.31H392.84V1266.45H389.70zM985.52 1263.31H988.66V1266.45H985.52zM389.70 1266.45H392.84V1269.58H389.70zM985.52 1266.45H988.66V1269.58H985.52zM389.70 1269.58H392.84V1272.72H389.70zM985.52 1269.58H988.66V1272.72H985.52zM389.70 1272.72H392.84V1275.85H389.70zM985.52 1272.72H988.66V1275.85H985.52zM389.70 1275.85H392.84V1278.99H389.70zM985.52 1275.85H988.66V1278.99H985.52zM389.70 1278.99H392.84V1282.12H389.70zM985.52 1278.99H988.66V1282.12H985.52zM389.70 1282.12H392.84V1285.25H389.70zM985.52 1282.12H988.66V1285.25H985.52zM389.70 1285.25H392.84V1288.39H389.70zM985.52 1285.25H988.66V1288.39H985.52zM389.70 1288.39H392.84V1291.52H389.70zM985.52 1288.39H988.66V1291.52H985.52zM389.70 1291.52H392.84V1294.66H389.70zM985.52 1291.52H988.66V1294.66H985.52zM389.70 1294.66H392.84V1297.79H389.70zM985.52 1294.66H988.66V1297.79H985.52zM389.70 1297.79H392.84V1300.93H389.70zM985.52 1297.79H988.66V1300.93H985.52zM389.70 1300.93H392.84V1304.06H389.70zM985.52 1300.93H988.66V1304.06H985.52zM389.70 1304.06H392.84V1307.19H389.70zM985.52 1304.06H988.66V1307.19H985.52zM389.70 1307.19H392.84V1310.33H389.70zM985.52 1307.19H988.66V1310.33H985.52zM389.70 1310.33H392.84V1313.46H389.70zM985.52 1310.33H988.66V1313.46H985.52zM389.70 1313.46H392.84V1316.60H389.70zM985.52 1313.46H988.66V1316.60H985.52zM389.70 1316.60H392.84V1319.73H389.70zM985.52 1316.60H988.66V1319.73H985.52zM389.70 1319.73H392.84V1322.87H389.70zM985.52 1319.73H988.66V1322.87H985.52zM389.70 1322.87H392.84V1326.00H389.70zM985.52 1322.87H988.66V1326.00H985.52zM389.70 1326.00H392.84V1329.14H389.70zM985.52 1326.00H988.66V1329.14H985.52zM389.70 1329.14H392.84V1332.27H389.70zM985.52 1329.14H988.66V1332.27H985.52zM389.70 1332.27H392.84V1335.40H389.70zM985.52 1332.27H988.66V1335.40H985.52zM389.70 1335.40H392.84V1338.54H389.70zM985.52 1335.40H988.66V1338.54H985.52zM389.70 1338.54H392.84V1341.67H389.70zM985.52 1338.54H988.66V1341.67H985.52zM389.70 1341.67H392.84V1344.81H389.70zM985.52 1341.67H988.66V1344.81H985.52zM389.70 1344.81H392.84V1347.94H389.70zM985.52 1344.81H988.66V1347.94H985.52zM389.70 1347.94H392.84V1351.08H389.70zM985.52 1347.94H988.66V1351.08H985.52zM389.70 1351.08H392.84V1354.21H389.70zM985.52 1351.08H988.66V1354.21H985.52zM389.70 1354.21H392.84V1357.35H389.70zM985.52 1354.21H988.66V1357.35H985.52zM389.70 1357.35H392.84V1360.48H389.70zM985.52 1357.35H988.66V1360.48H985.52zM389.70 1360.48H392.84V1363.61H389.70zM985.52 1360.48H988.66V1363.61H985.52zM389.70 1363.61H392.84V1366.75H389.70zM985.52 1363.61H988.66V1366.75H985.52zM389.70 1366.75H392.84V1369.88H389.70zM985.52 1366.75H988.66V1369.88H985.52zM389.70 1369.88H392.84V1373.02H389.70zM985.52 1369.88H988.66V1373.02H985.52zM389.70 1373.02H392.84V1376.15H389.70zM985.52 1373.02H988.66V1376.15H985.52zM389.70 1376.15H392.84V1379.29H389.70zM985.52 1376.15H988.66V1379.29H985.52zM389.70 1379.29H392.84V1382.42H389.70zM985.52 1379.29H988.66V1382.42H985.52zM389.70 1382.42H392.84V1385.55H389.70zM985.52 1382.42H988.66V1385.55H985.52zM389.70 1385.55H392.84V1388.69H389.70zM985.52 1385.55H988.66V1388.69H985.52zM389.70 1388.69H392.84V1391.82H389.70zM985.52 1388.69H988.66V1391.82H985.52zM389.70 1391.82H988.66V1394.96H389.70z" fill="#000"/>
<path d="M421.06 974.95H552.77V978.08H421.06z" fill="#000"/>
<text transform="scale(0.935,1)" x="604.4 647.7" y="993.5" font-size="53" fill="#000" stroke="#fff" stroke-width="0.5">GO</text>
<path d="M449.28 1034.50H486.91V1037.64H449.28zM512.00 1034.50H543.36V1037.64H512.00z" fill="#0000d2"/>
<text transform="scale(0.935,1)" x="604.9 645.7 678.6 711.7 754.6 794.4 819.2 850.9 883.4 916.8 956.1 986.6" y="1053.1" font-size="53" fill="#0000d2" stroke="#fff" stroke-width="0.5">CS_GO 20_GLU</text>
<path d="M449.28 1097.19H486.91V1100.32H449.28zM512.00 1097.19H543.36V1100.32H512.00z" fill="#007a10"/>
<text transform="scale(0.935,1)" x="604.9 645.7 678.6 711.7 754.6 794.4 820.9 849.5 882.9 925.5 956.3" y="1115.8" font-size="53" fill="#007a10" stroke="#fff" stroke-width="0.5">CS_GO 1_GLU</text>
<path d="M421.06 1156.74H552.77V1159.88H421.06z" fill="#0000d2"/>
<text transform="scale(0.935,1)" x="604.9 645.7 678.6 711.7 754.6 794.4 819.2 850.9" y="1175.3" font-size="53" fill="#0000d2" stroke="#fff" stroke-width="0.5">CS_GO 20</text>
<path d="M421.06 1219.43H552.77V1222.57H421.06z" fill="#007a10"/>
<text transform="scale(0.935,1)" x="604.9 645.7 678.6 711.7 754.6 794.4 820.9" y="1238.0" font-size="53" fill="#007a10" stroke="#fff" stroke-width="0.5">CS_GO 1</text>
<path d="M421.06 1278.99H552.77V1282.12H421.06z" fill="#ff0000"/>
<text transform="scale(0.935,1)" x="604.9 645.7" y="1297.6" font-size="53" fill="#ff0000" stroke="#fff" stroke-width="0.5">CS</text>
<path d="M449.28 1341.67H486.91V1344.81H449.28zM512.00 1341.67H543.36V1344.81H512.00z" fill="#ff0000"/>
<text transform="scale(0.935,1)" x="604.9 645.7 678.6 711.7 754.4 787.9" y="1360.2" font-size="53" fill="#ff0000" stroke="#fff" stroke-width="0.5">CS_GLU</text>
<rect x="769.97" y="1111.00" width="10.49" height="5.96" fill="#fff"/>
<rect x="783.84" y="1111.00" width="9.93" height="5.96" fill="#fff"/>
<rect x="769.97" y="1233.24" width="10.49" height="5.96" fill="#fff"/>
<rect x="783.84" y="1233.24" width="9.93" height="5.96" fill="#fff"/>
</svg></body></html>
